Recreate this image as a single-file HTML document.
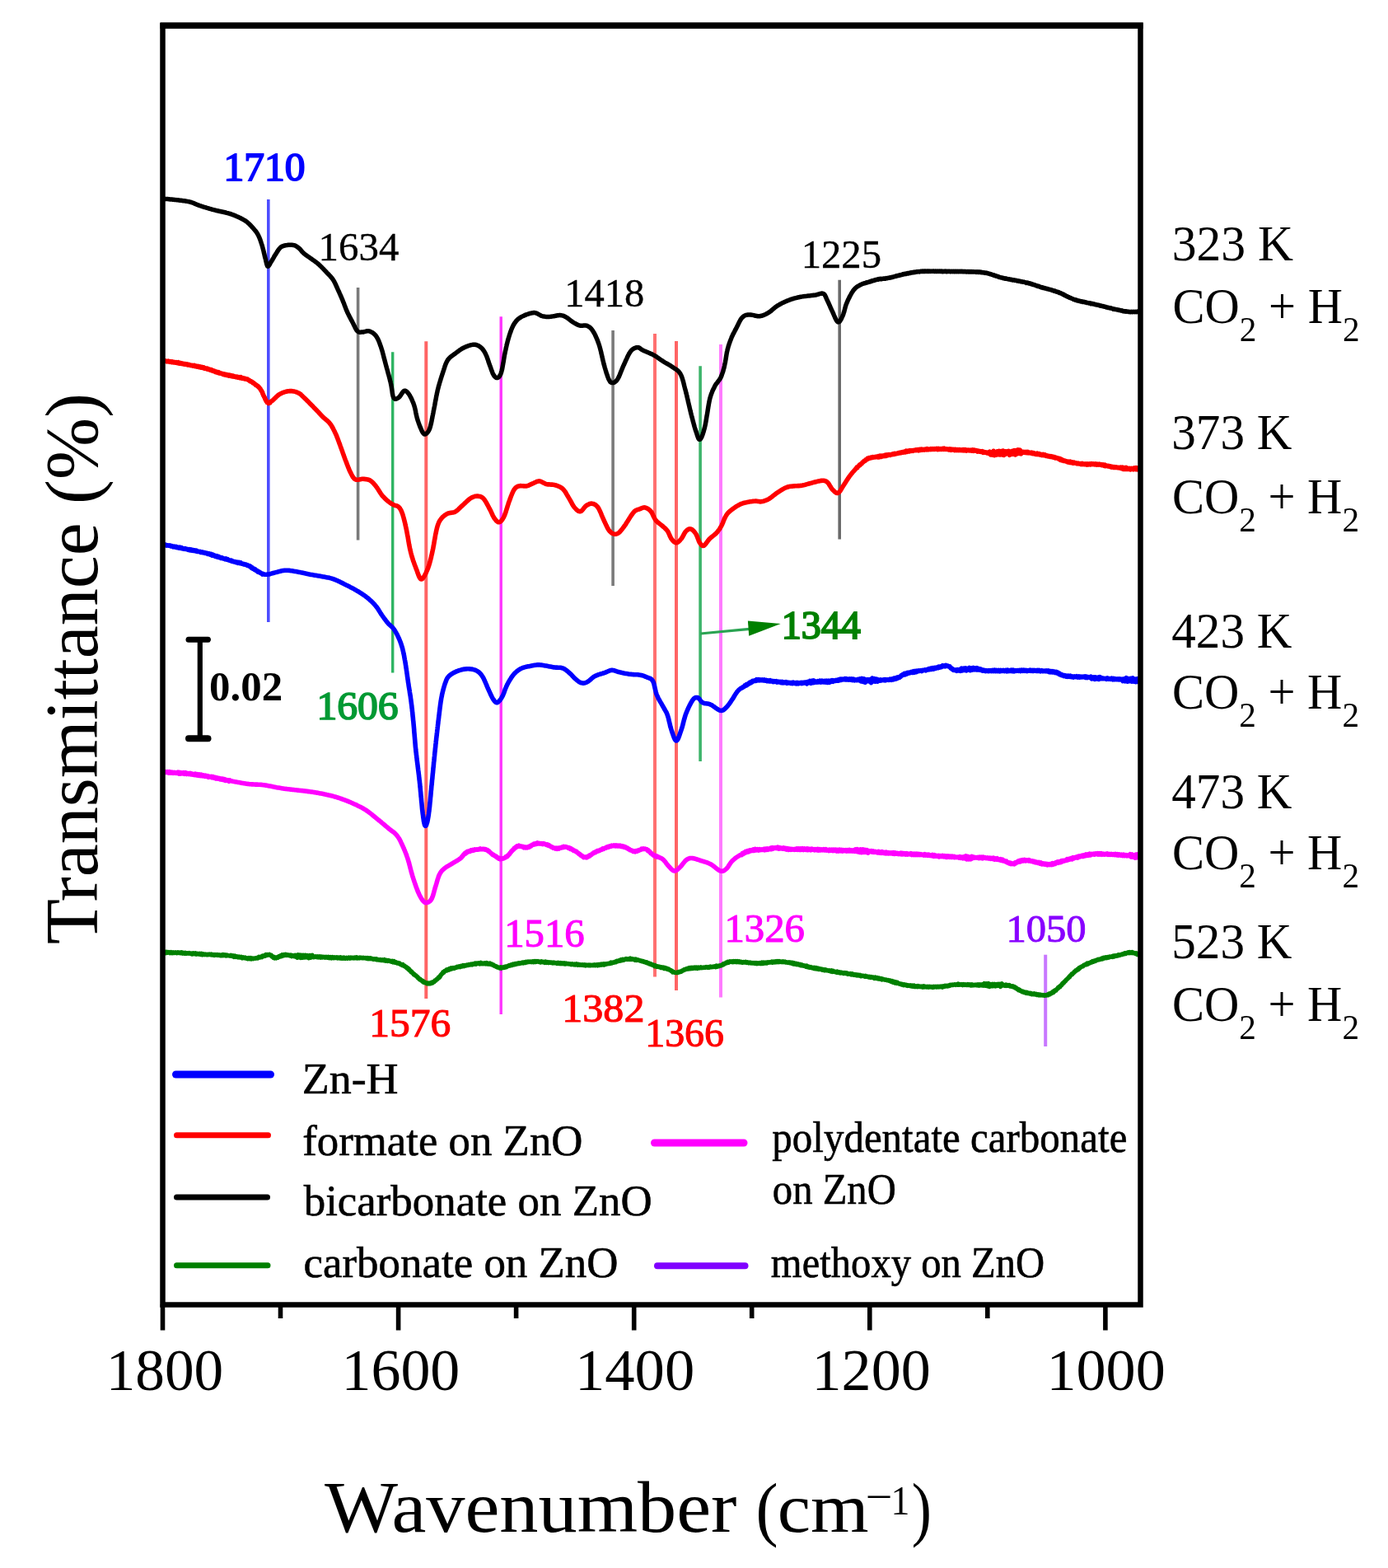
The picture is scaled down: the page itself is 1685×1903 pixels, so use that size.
<!DOCTYPE html>
<html><head><meta charset="utf-8"><title>FTIR spectra</title>
<style>
html,body{margin:0;padding:0;background:#fff;}
body{width:1685px;height:1903px;overflow:hidden;}
svg{display:block;}
</style></head>
<body>
<svg width="1685" height="1903" viewBox="0 0 1685 1903">
<rect width="1685" height="1903" fill="#fff"/>
<line x1="325.8" y1="242" x2="325.8" y2="755" stroke="#4d4dff" stroke-width="3.6"/>
<line x1="434.6" y1="349" x2="434.6" y2="655.5" stroke="#7a7a7a" stroke-width="3.6"/>
<line x1="476.7" y1="427.3" x2="476.7" y2="816.5" stroke="#2fb463" stroke-width="3.4"/>
<line x1="517.3" y1="414.2" x2="517.3" y2="1212" stroke="#ff6464" stroke-width="4.0"/>
<line x1="608.2" y1="384.3" x2="608.2" y2="1231" stroke="#ff33ff" stroke-width="3.4"/>
<line x1="744.1" y1="401" x2="744.1" y2="711" stroke="#7a7a7a" stroke-width="3.6"/>
<line x1="795.0" y1="405.1" x2="795.0" y2="1185.6" stroke="#ff7070" stroke-width="4.0"/>
<line x1="821.0" y1="414" x2="821.0" y2="1202" stroke="#ff6464" stroke-width="4.0"/>
<line x1="850.1" y1="444.3" x2="850.1" y2="924" stroke="#3cb46a" stroke-width="3.6"/>
<line x1="875.0" y1="418" x2="875.0" y2="1210.5" stroke="#ff7cff" stroke-width="4.0"/>
<line x1="1019.2" y1="339.8" x2="1019.2" y2="654.5" stroke="#6a6a6a" stroke-width="3.6"/>
<line x1="1269.2" y1="1158.7" x2="1269.2" y2="1270" stroke="#c877ff" stroke-width="4.0"/>
<line x1="850.4" y1="769.0" x2="910" y2="763.3" stroke="#2aa352" stroke-width="3.2"/>
<polygon points="907.9,753.5 909.2,771.8 947.7,757.0" fill="#008000"/>
<path d="M197.5,241.5L198.1,241.5L198.9,241.5L199.8,241.5L200.8,241.5L202.0,241.5L203.4,241.6L205.0,241.7L206.9,241.9L207.8,242.0L208.8,242.1L209.8,242.2L210.9,242.3L212.1,242.4L213.4,242.6L214.6,242.7L215.9,242.8L217.3,243.0L218.6,243.2L219.9,243.3L221.2,243.5L222.5,243.7L223.8,243.8L225.1,244.0L226.2,244.2L227.4,244.4L228.4,244.6L229.4,244.8L230.8,245.1L232.1,245.5L233.2,245.9L234.3,246.2L235.3,246.6L236.2,247.1L237.2,247.5L238.1,247.9L239.1,248.3L240.2,248.7L241.3,249.2L242.5,249.6L243.5,249.9L244.5,250.2L245.5,250.6L246.6,250.9L247.7,251.3L248.8,251.6L250.0,251.9L251.1,252.3L252.3,252.6L253.4,253.0L254.6,253.3L255.7,253.6L256.9,254.0L258.0,254.3L259.2,254.6L260.3,254.9L261.4,255.2L262.6,255.5L263.7,255.7L264.9,256.0L266.1,256.3L267.2,256.5L268.4,256.8L269.6,257.0L270.7,257.3L271.9,257.5L273.0,257.8L274.1,258.0L275.1,258.3L276.2,258.6L277.1,258.8L278.1,259.1L279.4,259.5L280.7,259.9L281.8,260.3L283.0,260.7L284.0,261.2L285.1,261.6L286.1,262.0L287.1,262.5L288.1,262.9L289.0,263.3L290.0,263.8L291.1,264.3L292.1,264.8L293.1,265.3L294.0,265.8L295.0,266.3L295.9,266.8L296.8,267.3L297.7,267.9L298.6,268.5L299.5,269.2L300.4,269.9L301.3,270.7L302.2,271.5L303.0,272.3L303.9,273.2L304.7,274.0L305.5,274.9L306.3,275.8L307.1,276.7L307.8,277.5L308.6,278.4L309.3,279.3L310.0,280.1L310.7,280.9L311.3,281.8L311.9,282.7L312.5,283.6L313.1,284.7L313.7,285.8L314.1,286.7L314.6,287.7L315.0,288.7L315.4,289.7L315.8,290.8L316.2,291.9L316.6,293.1L317.0,294.2L317.3,295.3L317.7,296.5L318.1,297.7L318.4,298.8L318.7,299.9L319.0,301.0L319.3,302.1L319.6,303.2L319.9,304.4L320.2,305.6L320.4,306.7L320.7,307.8L321.0,309.0L321.2,310.1L321.5,311.1L321.7,312.1L322.0,313.1L322.4,314.5L322.7,315.9L323.0,317.4L323.3,318.7L323.6,320.0L323.9,321.1L324.3,322.1L324.6,322.8L325.0,323.2L325.6,323.2L326.2,322.7L326.9,321.7L327.6,320.5L328.3,319.1L329.1,317.8L329.6,317.0L330.1,316.2L330.7,315.3L331.2,314.3L331.8,313.3L332.4,312.3L332.9,311.3L333.5,310.4L334.1,309.4L334.7,308.5L335.3,307.5L336.0,306.5L336.6,305.4L337.3,304.4L337.9,303.4L338.6,302.5L339.3,301.6L340.0,300.9L340.7,300.2L341.6,299.5L342.6,299.0L343.6,298.6L344.6,298.2L345.6,298.0L346.7,297.8L347.8,297.6L348.8,297.4L350.0,297.3L351.1,297.2L352.3,297.2L353.5,297.2L354.6,297.3L355.7,297.4L356.7,297.6L357.8,297.9L358.8,298.3L359.7,298.9L360.6,299.4L361.5,300.1L362.4,300.7L363.2,301.4L364.0,302.1L364.7,302.9L365.4,303.8L366.1,304.6L366.8,305.5L367.7,306.4L368.6,307.3L369.3,307.9L370.2,308.6L371.0,309.2L371.9,309.9L372.8,310.5L373.8,311.2L374.7,311.8L375.7,312.5L376.6,313.1L377.5,313.8L378.4,314.4L379.3,315.1L380.2,315.7L381.1,316.3L381.9,316.9L382.8,317.6L383.7,318.2L384.6,318.9L385.5,319.6L386.4,320.4L387.2,321.1L388.0,321.9L388.8,322.6L389.6,323.4L390.4,324.2L391.3,325.1L392.1,325.9L392.9,326.7L393.7,327.6L394.5,328.4L395.3,329.3L396.1,330.1L396.8,330.9L397.6,331.7L398.4,332.5L399.2,333.3L399.9,334.1L400.7,334.9L401.5,335.8L402.2,336.6L402.9,337.5L403.6,338.4L404.2,339.3L404.8,340.2L405.4,341.2L405.9,342.1L406.4,343.1L406.9,344.0L407.3,345.0L407.8,346.0L408.2,347.0L408.7,348.1L409.1,349.1L409.6,350.1L410.1,351.2L410.6,352.2L411.0,353.2L411.5,354.2L412.0,355.3L412.4,356.3L412.9,357.4L413.4,358.5L413.8,359.6L414.3,360.6L414.8,361.7L415.2,362.8L415.7,363.8L416.1,364.9L416.5,366.0L417.0,367.0L417.4,368.1L417.8,369.1L418.2,370.2L418.6,371.2L419.0,372.3L419.4,373.3L419.8,374.4L420.2,375.4L420.6,376.5L421.1,377.5L421.5,378.5L422.0,379.6L422.5,380.7L423.1,381.8L423.6,382.9L424.2,384.0L424.7,385.0L425.3,386.1L425.8,387.1L426.4,388.2L426.9,389.2L427.5,390.2L428.0,391.2L428.6,392.3L429.1,393.4L429.6,394.5L430.2,395.6L430.7,396.7L431.2,397.8L431.8,398.8L432.3,399.7L432.8,400.6L433.4,401.3L433.9,401.9L434.9,402.7L435.8,403.1L436.8,403.2L437.7,403.2L438.8,403.1L439.9,403.1L441.0,403.0L442.1,402.7L443.3,402.4L444.5,402.0L445.8,401.8L447.0,401.7L448.2,401.9L449.1,402.2L450.1,402.6L451.1,403.1L452.0,403.6L453.0,404.3L453.9,405.0L454.8,405.9L455.7,406.8L456.5,407.8L457.1,408.6L457.6,409.5L458.1,410.4L458.6,411.3L459.1,412.3L459.6,413.4L460.1,414.5L460.5,415.7L461.0,416.9L461.4,418.2L461.9,419.5L462.4,420.9L462.7,421.8L463.0,422.8L463.3,423.8L463.6,424.8L464.0,425.9L464.3,427.0L464.6,428.1L464.9,429.3L465.2,430.4L465.5,431.6L465.8,432.8L466.1,434.0L466.4,435.2L466.7,436.4L467.1,437.6L467.4,438.8L467.7,440.0L468.0,441.1L468.3,442.3L468.6,443.4L468.9,444.5L469.2,445.7L469.5,446.8L469.9,448.0L470.2,449.1L470.5,450.3L470.8,451.4L471.1,452.6L471.4,453.8L471.8,454.9L472.1,456.1L472.4,457.2L472.7,458.4L473.0,459.5L473.3,460.6L473.5,461.7L473.8,462.7L474.1,463.8L474.3,464.8L474.6,466.1L474.8,467.4L475.1,468.7L475.3,470.0L475.5,471.3L475.7,472.6L475.9,473.9L476.1,475.1L476.2,476.3L476.4,477.4L476.6,478.5L476.8,479.5L477.0,480.4L477.3,481.3L477.5,482.0L477.8,482.6L478.8,483.9L480.0,484.3L481.2,484.1L482.5,483.4L483.8,482.6L484.5,482.0L485.2,481.3L485.9,480.3L486.6,479.3L487.4,478.2L488.1,477.1L488.8,476.1L489.5,475.3L490.2,474.6L490.9,474.3L491.8,474.2L492.7,474.5L493.5,475.0L494.3,475.7L495.1,476.7L496.0,477.8L496.8,479.0L497.3,479.7L497.7,480.5L498.2,481.4L498.7,482.3L499.2,483.3L499.7,484.3L500.2,485.4L500.6,486.4L501.1,487.6L501.6,488.7L502.0,489.8L502.4,491.0L502.8,492.1L503.1,493.2L503.4,494.3L503.7,495.4L504.0,496.6L504.2,497.7L504.5,498.9L504.7,500.1L504.9,501.3L505.2,502.5L505.4,503.7L505.7,504.9L506.0,506.1L506.3,507.3L506.6,508.4L507.0,509.6L507.4,510.8L507.8,512.0L508.2,513.2L508.7,514.5L509.1,515.7L509.6,516.9L510.0,518.1L510.5,519.3L511.0,520.3L511.4,521.3L511.8,522.3L512.2,523.1L512.6,523.8L513.5,525.4L514.3,526.4L515.1,527.0L515.8,527.1L516.7,526.8L517.3,526.4L518.0,526.0L518.6,525.3L519.3,524.5L520.0,523.5L520.7,522.2L521.4,520.8L522.0,519.0L522.3,518.2L522.5,517.4L522.7,516.4L523.0,515.5L523.2,514.4L523.5,513.4L523.7,512.3L524.0,511.1L524.2,509.9L524.4,508.7L524.7,507.5L524.9,506.3L525.1,505.0L525.4,503.8L525.6,502.6L525.9,501.3L526.1,500.1L526.3,498.9L526.6,497.7L526.8,496.5L527.0,495.4L527.2,494.3L527.5,493.1L527.7,492.0L527.9,490.9L528.1,489.7L528.3,488.6L528.5,487.4L528.8,486.2L529.0,485.1L529.2,483.9L529.4,482.8L529.6,481.6L529.8,480.5L530.1,479.4L530.3,478.2L530.5,477.1L530.8,476.0L531.0,474.9L531.2,473.9L531.5,472.8L531.8,471.6L532.1,470.4L532.4,469.2L532.7,468.0L533.1,466.8L533.4,465.6L533.7,464.5L534.1,463.3L534.4,462.2L534.8,461.1L535.1,459.9L535.5,458.8L535.8,457.8L536.1,456.7L536.5,455.6L536.8,454.6L537.2,453.6L537.5,452.6L537.9,451.3L538.3,450.1L538.7,448.9L539.1,447.6L539.5,446.5L539.8,445.3L540.2,444.2L540.6,443.1L541.0,442.0L541.5,440.9L541.9,440.0L542.4,439.0L542.9,438.1L543.4,437.2L544.1,436.2L544.9,435.2L545.7,434.4L546.5,433.6L547.4,432.8L548.3,432.1L549.2,431.5L550.1,430.8L551.1,430.2L552.0,429.5L552.9,428.8L553.8,428.1L554.8,427.4L555.7,426.7L556.7,426.0L557.6,425.3L558.6,424.6L559.6,424.0L560.6,423.3L561.6,422.8L562.6,422.2L563.6,421.7L564.7,421.2L565.7,420.7L566.9,420.3L568.0,419.9L569.1,419.5L570.3,419.1L571.4,418.8L572.5,418.6L573.5,418.4L574.5,418.2L575.5,418.2L576.7,418.3L577.9,418.5L579.0,418.8L580.0,419.2L581.0,419.7L582.0,420.3L582.9,421.0L583.8,421.7L584.6,422.4L585.3,423.1L586.0,423.9L586.6,424.8L587.3,425.7L587.9,426.7L588.5,427.7L589.1,428.8L589.7,430.0L590.1,430.9L590.6,431.9L591.0,433.0L591.4,434.1L591.8,435.2L592.2,436.3L592.6,437.5L592.9,438.6L593.3,439.8L593.7,440.9L594.1,442.0L594.5,443.1L594.9,444.3L595.4,445.5L595.8,446.7L596.2,447.9L596.6,449.1L597.1,450.2L597.5,451.3L597.9,452.4L598.3,453.4L598.8,454.2L599.2,455.0L600.1,456.4L601.1,457.5L602.0,458.3L603.0,458.6L603.9,458.5L604.5,458.2L605.1,457.9L605.7,457.4L606.3,456.7L606.9,455.8L607.5,454.7L608.1,453.2L608.7,451.4L608.9,450.6L609.1,449.8L609.3,448.9L609.6,447.9L609.8,446.8L610.0,445.7L610.2,444.6L610.4,443.4L610.6,442.2L610.8,441.0L611.1,439.7L611.3,438.4L611.5,437.1L611.7,435.9L611.9,434.6L612.1,433.3L612.3,432.1L612.5,430.9L612.8,429.7L613.0,428.6L613.2,427.5L613.4,426.5L613.7,425.2L614.0,424.0L614.2,422.7L614.5,421.5L614.8,420.3L615.0,419.2L615.3,418.0L615.6,416.9L615.9,415.8L616.1,414.7L616.4,413.6L616.7,412.6L617.0,411.5L617.3,410.5L617.6,409.5L617.9,408.5L618.2,407.5L618.6,406.2L619.0,405.0L619.4,403.8L619.9,402.6L620.3,401.4L620.7,400.2L621.2,399.1L621.6,398.0L622.1,397.0L622.6,396.0L623.0,395.0L623.6,394.1L624.1,393.2L624.8,392.1L625.5,391.1L626.2,390.2L626.9,389.3L627.7,388.5L628.4,387.7L629.3,387.0L630.2,386.3L631.3,385.6L632.4,384.9L633.3,384.4L634.3,383.9L635.3,383.4L636.4,382.9L637.6,382.4L638.8,381.9L640.0,381.5L641.2,381.1L642.4,380.7L643.6,380.3L644.8,380.1L645.9,379.8L646.9,379.7L647.9,379.6L649.2,379.6L650.4,379.9L651.5,380.2L652.5,380.7L653.6,381.3L654.6,381.9L655.6,382.4L656.5,383.0L657.5,383.4L658.5,383.7L659.7,384.0L660.9,384.1L662.0,384.3L663.2,384.4L664.3,384.4L665.5,384.4L666.7,384.4L668.0,384.3L669.0,384.2L670.1,384.1L671.2,383.9L672.3,383.7L673.5,383.5L674.7,383.2L675.8,383.0L676.9,382.8L678.0,382.7L679.0,382.6L679.9,382.6L681.2,382.7L682.3,382.9L683.3,383.1L684.2,383.4L685.1,383.9L686.1,384.3L687.1,384.9L688.0,385.4L688.9,386.0L689.8,386.7L690.7,387.4L691.7,388.2L692.6,388.9L693.5,389.6L694.5,390.3L695.4,390.9L696.4,391.5L697.4,392.1L698.5,392.7L699.5,393.3L700.5,393.8L701.5,394.3L702.6,394.7L703.7,395.0L704.8,395.2L706.0,395.2L707.3,395.2L708.5,395.1L709.8,395.1L711.0,395.1L712.1,395.2L713.2,395.6L714.1,396.1L715.0,396.6L715.8,397.1L716.6,397.8L717.3,398.5L718.1,399.4L718.9,400.4L719.6,401.5L720.4,402.7L720.8,403.5L721.3,404.3L721.8,405.1L722.2,406.0L722.7,406.9L723.1,407.9L723.6,408.9L724.0,410.0L724.5,411.0L724.9,412.1L725.4,413.3L725.8,414.4L726.2,415.6L726.7,416.8L727.1,418.0L727.5,419.3L727.8,420.3L728.1,421.3L728.4,422.4L728.7,423.5L729.0,424.6L729.3,425.8L729.6,426.9L729.8,428.1L730.1,429.3L730.4,430.5L730.7,431.7L730.9,432.9L731.2,434.1L731.5,435.3L731.7,436.5L732.0,437.7L732.3,438.8L732.6,440.0L732.8,441.0L733.1,442.1L733.4,443.1L733.8,444.4L734.1,445.7L734.5,447.0L734.9,448.3L735.3,449.6L735.7,450.8L736.0,452.1L736.4,453.3L736.8,454.4L737.2,455.5L737.5,456.6L737.9,457.6L738.3,458.5L738.6,459.4L739.0,460.2L739.3,460.9L740.2,462.4L740.9,463.5L741.7,464.1L742.5,464.4L743.2,464.6L744.1,464.5L744.9,464.4L745.7,464.1L746.5,463.6L747.3,463.0L748.2,462.2L749.1,461.1L750.0,459.7L750.4,459.0L750.8,458.2L751.3,457.3L751.7,456.4L752.1,455.4L752.6,454.3L753.0,453.3L753.4,452.1L753.9,451.0L754.4,449.8L754.8,448.7L755.3,447.5L755.8,446.4L756.2,445.3L756.7,444.2L757.2,443.1L757.7,442.0L758.2,440.9L758.7,439.8L759.2,438.7L759.7,437.5L760.2,436.4L760.8,435.2L761.3,434.1L761.8,432.9L762.3,431.9L762.9,430.8L763.4,429.8L763.9,428.9L764.5,428.0L765.0,427.2L765.5,426.5L766.5,425.3L767.6,424.3L768.7,423.5L769.7,422.8L770.8,422.4L771.8,422.0L772.8,421.8L773.8,421.7L774.8,421.8L775.7,422.0L776.6,422.5L777.5,423.2L778.5,423.9L779.6,424.6L780.9,425.3L781.8,425.7L782.8,426.1L783.8,426.6L784.9,427.1L786.1,427.5L787.2,428.0L788.4,428.5L789.6,429.1L790.8,429.6L791.9,430.1L793.0,430.7L794.0,431.2L795.1,431.8L796.1,432.4L797.0,433.0L798.0,433.7L798.9,434.3L799.8,435.0L800.8,435.7L801.7,436.3L802.6,437.0L803.6,437.6L804.6,438.3L805.6,438.9L806.5,439.5L807.5,440.1L808.6,440.7L809.6,441.2L810.6,441.8L811.6,442.4L812.7,443.0L813.7,443.6L814.6,444.2L815.6,444.9L816.5,445.5L817.5,446.2L818.4,446.8L819.4,447.4L820.3,448.0L821.2,448.6L822.1,449.2L822.9,449.9L823.7,450.7L824.5,451.6L825.3,452.6L826.0,453.8L826.4,454.6L826.9,455.5L827.2,456.4L827.6,457.3L828.0,458.3L828.3,459.3L828.6,460.3L828.9,461.4L829.3,462.5L829.6,463.7L829.9,464.9L830.2,466.1L830.5,467.4L830.8,468.7L831.2,470.0L831.5,471.4L831.9,472.8L832.2,473.8L832.4,474.8L832.7,475.8L832.9,476.9L833.2,477.9L833.5,479.1L833.8,480.2L834.0,481.4L834.3,482.6L834.6,483.8L834.9,485.0L835.2,486.2L835.4,487.5L835.7,488.7L836.0,489.9L836.3,491.1L836.6,492.3L836.9,493.5L837.1,494.7L837.4,495.9L837.7,497.1L838.0,498.2L838.2,499.3L838.5,500.4L838.7,501.4L839.0,502.4L839.3,503.7L839.7,505.1L840.0,506.4L840.4,507.7L840.7,508.9L841.0,510.2L841.3,511.4L841.7,512.6L842.0,513.8L842.3,514.9L842.6,516.1L842.9,517.1L843.2,518.2L843.5,519.2L843.8,520.2L844.1,521.2L844.4,522.1L844.7,523.0L845.0,523.8L845.6,525.5L846.1,527.2L846.6,528.8L847.1,530.2L847.6,531.4L848.1,532.4L848.6,533.1L849.1,533.4L849.7,533.3L850.1,533.0L850.5,532.6L850.9,532.0L851.3,531.2L851.8,530.4L852.2,529.4L852.6,528.3L853.1,527.1L853.5,525.7L854.0,524.3L854.4,522.8L854.8,521.3L855.3,519.6L855.7,517.9L855.9,517.0L856.1,516.1L856.3,515.1L856.5,514.1L856.7,513.0L856.9,511.9L857.1,510.7L857.3,509.5L857.5,508.3L857.7,507.0L857.9,505.8L858.1,504.5L858.4,503.2L858.6,501.9L858.8,500.6L859.0,499.3L859.2,498.0L859.4,496.7L859.6,495.5L859.8,494.2L860.0,493.0L860.2,491.8L860.4,490.6L860.6,489.5L860.8,488.4L861.0,487.4L861.2,486.4L861.4,485.5L861.6,484.6L862.0,482.9L862.5,481.4L862.9,479.9L863.4,478.6L863.8,477.4L864.3,476.2L864.7,475.1L865.1,474.1L865.6,473.2L866.0,472.3L866.4,471.5L866.8,470.7L867.2,469.9L867.5,469.2L868.2,467.8L868.8,466.8L869.3,466.1L869.8,465.5L870.4,464.9L871.0,464.0L871.6,463.1L872.2,462.3L872.9,461.4L873.6,460.5L874.2,459.5L874.9,458.3L875.5,457.0L875.9,456.1L876.2,455.3L876.5,454.3L876.9,453.3L877.2,452.3L877.6,451.3L877.9,450.2L878.2,449.0L878.5,447.8L878.9,446.6L879.2,445.3L879.5,444.0L879.7,443.0L879.9,442.0L880.1,440.9L880.4,439.8L880.6,438.6L880.8,437.4L881.0,436.2L881.2,435.0L881.4,433.8L881.6,432.5L881.8,431.3L882.0,430.1L882.2,428.9L882.4,427.8L882.6,426.7L882.9,425.6L883.1,424.6L883.4,423.3L883.8,422.1L884.1,420.9L884.4,419.8L884.8,418.7L885.1,417.6L885.5,416.5L885.9,415.5L886.2,414.4L886.6,413.4L887.0,412.4L887.4,411.4L887.8,410.4L888.2,409.3L888.7,408.3L889.2,407.3L889.6,406.3L890.1,405.3L890.6,404.4L891.1,403.4L891.6,402.5L892.1,401.5L892.6,400.5L893.2,399.5L893.7,398.5L894.2,397.5L894.7,396.5L895.3,395.4L895.8,394.3L896.3,393.2L896.9,392.0L897.4,390.9L898.0,389.9L898.6,388.8L899.1,387.9L899.7,387.0L900.3,386.2L900.9,385.5L901.9,384.6L902.8,383.8L903.7,383.2L904.7,382.8L905.7,382.4L906.8,382.2L907.9,382.0L909.2,381.9L910.2,381.9L911.3,382.0L912.5,382.2L913.7,382.4L914.9,382.7L916.2,383.0L917.4,383.3L918.7,383.5L919.9,383.7L921.1,383.7L922.2,383.7L923.4,383.5L924.5,383.3L925.6,383.0L926.6,382.6L927.7,382.2L928.7,381.8L929.8,381.3L930.8,380.7L931.8,380.1L932.9,379.5L933.8,378.9L934.7,378.3L935.5,377.7L936.4,377.0L937.2,376.2L938.1,375.5L939.0,374.7L939.9,374.0L940.8,373.2L941.7,372.5L942.6,371.8L943.6,371.2L944.5,370.6L945.5,370.1L946.4,369.5L947.4,369.0L948.4,368.5L949.4,367.9L950.4,367.4L951.4,367.0L952.4,366.5L953.5,366.0L954.5,365.6L955.6,365.1L956.6,364.7L957.6,364.3L958.7,363.9L959.7,363.5L960.8,363.2L961.8,362.8L962.9,362.5L964.0,362.2L965.1,361.9L966.2,361.6L967.3,361.3L968.5,361.0L969.7,360.8L970.9,360.5L972.0,360.3L973.2,360.1L974.3,359.9L975.6,359.7L976.8,359.6L978.1,359.4L979.4,359.3L980.7,359.1L981.9,359.0L983.2,358.9L984.4,358.7L985.5,358.6L986.7,358.5L987.7,358.3L988.7,358.2L990.1,358.0L991.4,357.7L992.6,357.3L993.8,357.0L994.9,356.7L995.9,356.4L996.9,356.2L997.8,356.1L998.6,356.2L999.4,356.4L1000.3,356.9L1001.0,357.5L1001.5,358.4L1002.0,359.3L1002.5,360.4L1003.0,361.6L1003.5,362.8L1004.1,364.1L1004.5,364.9L1004.9,365.8L1005.4,366.7L1005.8,367.7L1006.3,368.7L1006.7,369.8L1007.2,370.8L1007.7,371.9L1008.1,373.0L1008.6,374.0L1009.1,375.1L1009.6,376.2L1010.1,377.2L1010.6,378.3L1011.1,379.5L1011.7,380.7L1012.2,382.0L1012.8,383.4L1013.4,384.7L1013.9,385.9L1014.5,387.1L1015.1,388.2L1015.6,389.1L1016.2,389.9L1016.7,390.5L1017.2,390.8L1017.9,390.9L1018.6,390.7L1019.3,390.1L1020.0,389.3L1020.6,388.2L1021.3,387.0L1021.9,385.7L1022.5,384.4L1023.1,383.1L1023.5,382.2L1023.8,381.3L1024.1,380.3L1024.4,379.3L1024.8,378.2L1025.1,377.0L1025.4,375.9L1025.7,374.7L1026.0,373.5L1026.3,372.3L1026.7,371.1L1027.0,370.0L1027.5,368.8L1027.9,367.7L1028.4,366.7L1028.8,365.6L1029.3,364.5L1029.9,363.3L1030.4,362.2L1031.0,361.1L1031.5,360.0L1032.1,358.8L1032.7,357.8L1033.3,356.7L1033.9,355.7L1034.5,354.7L1035.1,353.8L1035.6,353.0L1036.2,352.2L1037.1,351.1L1038.0,350.1L1038.9,349.3L1039.8,348.5L1040.6,347.9L1041.6,347.3L1042.5,346.8L1043.5,346.2L1044.5,345.7L1045.5,345.2L1046.5,344.8L1047.5,344.4L1048.6,344.0L1049.7,343.7L1050.8,343.5L1051.9,342.7L1053.0,343.0L1054.1,342.3L1055.2,342.3L1056.3,341.5L1057.3,341.7L1058.3,340.8L1059.4,340.9L1060.4,340.3L1061.5,340.4L1062.6,339.6L1063.7,339.8L1064.8,339.1L1066.0,339.2L1067.0,338.5L1068.0,338.8L1069.1,338.2L1070.1,338.7L1071.2,338.2L1072.2,338.3L1073.4,337.9L1074.5,338.3L1075.7,337.6L1077.0,337.8L1078.2,337.2L1079.6,337.3L1080.6,336.8L1081.6,337.0L1082.7,336.3L1083.8,336.4L1084.9,335.8L1086.1,335.8L1087.2,335.1L1088.4,335.2L1089.6,334.5L1090.8,334.6L1092.0,333.8L1093.3,334.0L1094.5,333.2L1095.7,333.4L1096.9,332.5L1098.0,332.7L1099.2,332.1L1100.3,332.4L1101.4,331.6L1102.5,332.0L1103.6,331.2L1104.7,331.5L1105.7,330.7L1106.8,331.0L1107.9,330.4L1108.9,330.8L1110.0,330.0L1111.2,330.4L1112.3,329.7L1113.5,330.0L1114.8,329.5L1116.0,329.9L1117.4,329.3L1118.8,329.5L1119.8,329.1L1120.8,329.6L1121.9,329.0L1122.9,329.4L1124.0,329.0L1125.2,329.4L1126.3,328.9L1127.5,329.4L1128.6,329.0L1129.8,329.4L1131.0,329.1L1132.2,329.3L1133.4,328.9L1134.7,329.6L1135.9,329.0L1137.1,329.5L1138.4,329.1L1139.6,329.5L1140.8,329.0L1142.1,329.6L1143.3,329.1L1144.5,329.7L1145.7,329.2L1146.9,329.6L1148.1,329.1L1149.3,329.7L1150.5,329.2L1151.7,329.6L1152.9,329.2L1154.1,329.8L1155.4,329.3L1156.6,329.7L1157.8,329.2L1159.1,329.8L1160.3,329.2L1161.6,329.8L1162.8,329.3L1164.0,329.8L1165.2,329.3L1166.4,329.7L1167.6,329.2L1168.8,329.8L1170.0,329.4L1171.1,329.8L1172.2,329.4L1173.3,329.9L1174.4,329.5L1175.5,330.0L1176.5,329.5L1177.5,330.1L1178.9,329.6L1180.3,330.0L1181.5,329.8L1182.8,330.1L1184.0,329.8L1185.1,330.4L1186.3,329.8L1187.4,330.5L1188.5,329.9L1189.5,330.5L1190.6,330.1L1191.6,330.8L1192.7,330.5L1193.8,330.9L1194.9,330.8L1196.0,331.4L1197.1,331.1L1198.2,331.7L1199.2,331.5L1200.3,332.2L1201.3,332.2L1202.3,332.8L1203.3,332.7L1204.3,333.4L1205.3,333.4L1206.3,334.3L1207.3,334.1L1208.4,334.9L1209.4,334.8L1210.5,335.5L1211.7,335.6L1212.9,336.4L1214.1,336.4L1215.4,337.0L1216.7,336.9L1217.7,337.7L1218.7,337.5L1219.8,338.2L1221.0,337.8L1222.1,338.5L1223.3,338.5L1224.5,339.0L1225.7,338.8L1227.0,339.5L1228.2,339.3L1229.5,340.1L1230.8,339.8L1232.0,340.4L1233.3,340.2L1234.6,341.0L1235.8,340.7L1237.1,341.4L1238.3,341.2L1239.5,341.9L1240.7,341.7L1241.8,342.3L1243.0,342.1L1244.1,342.7L1245.1,342.7L1246.1,343.4L1247.5,343.1L1248.8,344.0L1250.1,343.8L1251.4,344.7L1252.6,344.5L1253.7,345.5L1254.8,345.3L1255.9,346.0L1257.0,346.1L1258.1,346.9L1259.1,346.8L1260.2,347.6L1261.2,347.3L1262.3,348.2L1263.4,348.2L1264.5,349.0L1265.6,348.7L1266.7,349.6L1267.8,349.4L1268.9,350.1L1269.9,350.0L1271.0,350.7L1272.1,350.6L1273.2,351.3L1274.3,351.3L1275.4,351.8L1276.5,351.7L1277.6,352.5L1278.7,352.4L1279.8,353.2L1280.8,353.0L1281.9,354.0L1283.0,353.9L1284.1,354.6L1285.2,354.6L1286.3,355.6L1287.3,355.4L1288.4,356.3L1289.4,356.5L1290.4,357.4L1291.4,357.3L1292.4,358.5L1293.4,358.5L1294.4,359.5L1295.4,359.4L1296.5,360.5L1297.5,360.4L1298.6,361.5L1299.8,361.5L1301.0,362.4L1302.2,362.6L1303.5,363.6L1304.8,363.5L1305.8,364.3L1306.8,364.0L1307.8,364.9L1308.9,364.7L1310.0,365.4L1311.1,365.3L1312.3,366.0L1313.4,365.8L1314.6,366.6L1315.8,366.2L1317.1,367.0L1318.3,366.8L1319.5,367.5L1320.7,367.5L1321.9,368.0L1323.2,367.8L1324.4,368.7L1325.6,368.3L1326.7,369.0L1327.9,368.8L1329.0,369.6L1330.1,369.4L1331.2,370.1L1332.2,369.9L1333.2,370.4L1334.2,370.3L1335.6,371.2L1337.0,370.9L1338.3,371.8L1339.6,371.6L1340.8,372.3L1342.0,372.2L1343.2,373.1L1344.3,372.9L1345.4,373.6L1346.5,373.5L1347.6,374.0L1348.6,373.8L1349.7,374.5L1350.7,374.5L1351.7,375.3L1352.8,375.0L1353.8,375.5L1355.0,375.5L1356.3,376.1L1357.4,375.9L1358.6,376.6L1359.7,376.4L1360.9,377.1L1362.0,376.8L1363.1,377.7L1364.1,377.4L1365.2,377.9L1366.3,377.7L1367.3,378.2L1368.4,377.9L1369.4,378.4L1370.6,378.3L1371.9,378.8L1373.3,378.3L1374.6,378.8L1375.9,378.3L1377.2,378.7L1378.4,378.3L1379.5,378.7L1380.6,378.0L1381.5,378.7L1382.3,378.2L1383.0,378.3" fill="none" stroke="#000000" stroke-width="5.5" stroke-linejoin="round" stroke-linecap="butt"/>
<path d="M197.5,437.8L198.2,438.5L199.1,437.4L200.2,438.3L201.5,438.1L202.8,439.0L204.2,438.1L205.5,439.3L206.9,438.7L208.0,439.6L209.1,438.9L210.3,439.9L211.4,439.4L212.6,440.2L213.9,439.7L215.1,440.7L216.3,439.8L217.5,441.2L218.7,440.4L219.8,441.4L220.8,440.9L221.8,441.6L222.8,441.4L223.8,442.1L224.8,441.6L225.8,442.5L226.9,441.8L228.1,443.0L229.3,442.4L230.6,443.4L231.6,443.1L232.5,443.8L233.6,443.4L234.6,444.2L235.7,443.5L236.8,444.7L238.0,444.2L239.1,445.2L240.3,444.4L241.5,445.6L242.6,444.8L243.8,446.1L245.0,445.4L246.1,446.5L247.3,445.8L248.4,447.3L249.5,446.8L250.6,447.8L251.7,447.2L252.8,448.4L254.0,448.0L255.1,449.2L256.2,448.6L257.3,450.0L258.4,449.5L259.5,450.7L260.6,450.3L261.8,451.7L262.9,451.2L264.0,452.3L265.1,451.7L266.2,453.1L267.3,452.5L268.4,453.5L269.6,453.2L270.7,454.3L271.9,453.8L273.0,454.9L274.2,454.3L275.3,455.4L276.5,454.8L277.6,456.0L278.7,455.2L279.8,456.3L280.9,455.7L281.9,456.8L283.0,456.1L284.0,457.1L285.2,456.8L286.4,457.7L287.6,457.0L288.8,458.2L290.0,457.7L291.1,458.7L292.2,457.8L293.3,459.1L294.4,458.5L295.4,459.5L296.4,459.0L297.4,460.0L298.3,459.5L299.4,460.5L300.5,460.1L301.5,461.4L302.5,461.3L303.4,462.7L304.3,462.5L305.2,463.6L306.1,463.3L306.9,464.8L307.8,464.6L308.7,465.9L309.6,466.0L310.5,467.3L311.4,467.2L312.3,468.6L313.1,468.5L313.9,470.0L314.7,470.1L315.4,471.6L316.1,471.9L316.8,473.7L317.4,473.9L318.0,475.5L318.5,475.9L318.9,477.9L319.4,478.4L319.9,480.3L320.3,480.5L320.8,481.9L321.4,482.6L322.0,484.6L322.6,484.9L323.1,486.8L323.7,487.2L324.3,488.5L325.0,488.4L325.9,489.5L326.8,488.4L327.8,488.9L329.0,487.0L330.3,486.5L331.0,486.0L331.7,485.3L332.5,484.5L333.3,483.7L334.2,482.9L335.1,482.0L336.0,481.1L336.9,480.3L337.9,479.5L338.8,478.8L339.8,478.2L340.8,477.7L341.8,477.2L342.9,476.7L344.0,476.3L345.1,475.9L346.2,475.6L347.4,475.3L348.5,475.0L349.6,474.8L350.7,474.7L351.7,474.6L352.8,474.6L354.0,474.6L355.1,474.7L356.2,474.9L357.3,475.1L358.4,475.4L359.4,475.7L360.4,476.1L361.4,476.5L362.4,477.0L363.3,477.5L364.2,478.0L365.0,478.6L365.7,479.3L366.5,480.0L367.2,480.7L368.0,481.5L368.9,482.3L369.7,483.2L370.7,484.1L371.4,484.8L372.2,485.6L373.0,486.4L373.9,487.2L374.8,488.1L375.6,489.0L376.5,489.9L377.4,490.8L378.3,491.7L379.2,492.6L380.1,493.5L380.9,494.4L381.7,495.2L382.5,496.0L383.4,496.9L384.2,497.8L385.1,498.7L385.9,499.5L386.7,500.4L387.4,501.2L388.2,502.1L389.0,502.9L389.7,503.7L390.5,504.5L391.2,505.2L392.0,506.0L392.9,506.9L393.8,507.7L394.7,508.4L395.6,509.2L396.5,509.9L397.4,510.7L398.2,511.4L399.1,512.3L399.9,513.2L400.7,514.2L401.3,515.0L401.9,515.9L402.5,516.8L403.0,517.8L403.6,518.8L404.2,519.8L404.7,520.8L405.2,521.9L405.8,522.9L406.3,524.0L406.8,525.1L407.3,526.2L407.8,527.3L408.3,528.3L408.7,529.4L409.1,530.4L409.6,531.5L410.0,532.6L410.4,533.7L410.8,534.8L411.2,535.9L411.6,537.0L412.0,538.1L412.5,539.3L412.9,540.4L413.3,541.6L413.7,542.7L414.1,543.8L414.5,544.9L414.9,546.0L415.3,547.1L415.7,548.2L416.1,549.4L416.5,550.5L416.9,551.6L417.3,552.8L417.7,553.9L418.1,555.0L418.5,556.1L418.9,557.2L419.3,558.3L419.7,559.3L420.2,560.5L420.6,561.7L421.1,562.9L421.5,564.1L422.0,565.2L422.4,566.4L422.9,567.5L423.3,568.6L423.8,569.7L424.2,570.8L424.7,571.8L425.1,572.7L425.6,573.6L426.2,574.8L426.8,576.0L427.4,577.1L428.0,578.2L428.6,579.2L429.3,580.0L429.9,580.8L430.7,581.4L431.5,581.9L432.5,582.2L433.6,582.3L434.9,582.2L436.1,582.0L437.4,581.7L438.6,581.5L439.8,581.3L441.0,581.3L442.1,581.4L443.2,581.5L444.2,581.6L445.3,581.7L446.3,581.9L447.3,582.2L448.3,582.6L449.3,583.1L450.1,583.6L451.0,584.3L451.8,584.9L452.6,585.7L453.4,586.5L454.1,587.4L454.9,588.3L455.7,589.2L456.5,590.2L457.1,591.1L457.8,592.0L458.4,593.0L459.1,594.0L459.7,595.0L460.4,596.1L461.0,597.1L461.7,598.1L462.3,599.1L463.0,600.0L463.6,600.9L464.4,601.9L465.2,602.8L466.0,603.6L466.8,604.4L467.5,605.2L468.3,605.9L469.1,606.6L469.9,607.3L470.7,608.0L471.6,608.7L472.5,609.4L473.4,610.1L474.3,610.7L475.2,611.3L476.1,611.8L477.0,612.3L477.8,612.8L478.9,613.3L479.9,613.5L481.0,613.7L481.9,614.0L482.9,614.4L483.8,615.1L484.4,615.8L485.1,616.5L485.7,617.3L486.2,618.2L486.8,619.2L487.3,620.4L487.9,621.8L488.5,623.4L488.8,624.2L489.1,625.1L489.3,626.0L489.6,627.0L489.9,628.0L490.2,629.0L490.4,630.0L490.7,631.1L491.0,632.3L491.3,633.5L491.6,634.6L491.9,635.9L492.1,637.1L492.4,638.4L492.7,639.7L493.0,641.0L493.3,642.4L493.5,643.4L493.7,644.4L493.9,645.5L494.1,646.6L494.3,647.7L494.5,648.8L494.7,650.0L495.0,651.1L495.2,652.3L495.4,653.5L495.6,654.8L495.8,656.0L496.0,657.2L496.2,658.4L496.4,659.6L496.6,660.8L496.9,662.0L497.1,663.2L497.3,664.3L497.5,665.5L497.8,666.6L498.0,667.6L498.3,668.7L498.5,669.7L498.8,671.0L499.2,672.3L499.5,673.6L499.9,674.8L500.2,676.0L500.6,677.2L501.0,678.4L501.3,679.6L501.7,680.7L502.1,681.8L502.5,682.9L502.9,684.0L503.2,685.0L503.6,686.0L504.0,687.0L504.4,688.0L504.7,689.0L505.1,689.9L505.6,691.2L506.1,692.6L506.6,693.9L507.0,695.3L507.5,696.6L508.0,697.9L508.5,699.1L508.9,700.1L509.4,701.1L509.9,701.8L510.4,702.4L511.0,702.8L511.5,702.9L512.1,702.8L512.7,702.4L513.3,701.8L513.9,701.1L514.5,700.1L515.2,699.1L515.8,697.9L516.5,696.6L517.1,695.3L517.7,693.9L518.3,692.6L518.9,691.2L519.4,689.9L519.8,689.0L520.1,688.0L520.5,687.0L520.8,686.0L521.1,685.0L521.4,684.0L521.7,682.9L522.0,681.8L522.3,680.7L522.6,679.6L522.9,678.4L523.2,677.2L523.5,676.0L523.7,674.8L524.0,673.6L524.3,672.3L524.6,671.0L524.9,669.7L525.1,668.7L525.3,667.6L525.6,666.5L525.8,665.4L526.0,664.2L526.2,663.0L526.5,661.8L526.7,660.6L526.9,659.3L527.1,658.0L527.3,656.8L527.5,655.5L527.8,654.3L528.0,653.0L528.2,651.8L528.4,650.6L528.6,649.4L528.8,648.3L529.1,647.2L529.3,646.1L529.5,645.1L529.7,644.2L529.9,643.2L530.1,642.4L530.5,640.7L530.9,639.2L531.3,637.9L531.7,636.8L532.1,635.7L532.4,634.8L532.8,633.9L533.3,633.1L533.7,632.3L534.2,631.4L534.8,630.6L535.5,629.7L536.2,628.8L537.0,627.9L537.8,627.2L538.6,626.4L539.5,625.7L540.4,625.1L541.3,624.5L542.2,623.9L543.1,623.4L544.1,623.0L545.1,622.7L546.2,622.5L547.2,622.4L548.3,622.3L549.4,622.1L550.5,621.9L551.5,621.6L552.6,621.1L553.5,620.6L554.3,620.0L555.2,619.3L556.1,618.5L556.9,617.7L557.8,616.9L558.6,616.1L559.5,615.2L560.4,614.4L561.2,613.6L562.1,612.8L563.0,612.0L563.8,611.2L564.7,610.4L565.6,609.5L566.5,608.7L567.4,607.9L568.2,607.1L569.1,606.3L569.9,605.7L570.8,605.0L571.6,604.5L572.7,603.9L573.8,603.4L574.8,602.9L575.9,602.6L576.9,602.3L577.9,602.2L578.9,602.1L579.9,602.1L581.0,602.2L582.0,602.4L583.1,602.6L584.1,603.0L585.1,603.6L586.1,604.3L587.1,605.3L587.7,606.0L588.3,606.8L588.9,607.7L589.5,608.6L590.1,609.6L590.7,610.7L591.3,611.8L591.9,612.9L592.5,614.0L593.1,615.1L593.6,616.2L594.2,617.2L594.7,618.2L595.3,619.3L595.8,620.3L596.3,621.4L596.8,622.5L597.3,623.5L597.8,624.6L598.2,625.6L598.7,626.5L599.2,627.4L599.7,628.3L600.2,629.0L601.0,630.2L601.9,631.2L602.7,632.2L603.6,632.9L604.4,633.5L605.3,633.8L606.1,633.8L606.8,633.5L607.6,633.1L608.3,632.4L609.0,631.6L609.8,630.6L610.5,629.4L611.3,628.1L612.0,626.6L612.4,625.8L612.7,624.9L613.1,623.9L613.5,622.8L613.9,621.7L614.2,620.5L614.6,619.4L615.0,618.1L615.4,616.9L615.8,615.7L616.1,614.5L616.5,613.2L616.9,612.1L617.3,610.9L617.6,609.8L618.0,608.8L618.5,607.6L618.9,606.3L619.4,605.1L619.8,603.9L620.3,602.6L620.7,601.5L621.2,600.3L621.6,599.2L622.1,598.2L622.5,597.2L623.0,596.2L623.4,595.4L623.9,594.6L624.7,593.4L625.5,592.4L626.3,591.7L627.1,591.1L627.9,590.6L628.9,590.2L629.9,589.9L630.9,589.7L632.1,589.6L633.3,589.7L634.5,589.8L635.8,589.9L637.0,590.0L638.2,590.0L639.3,589.9L640.4,589.6L641.5,589.3L642.5,588.8L643.5,588.3L644.4,587.8L645.4,587.4L646.5,586.9L647.5,586.5L648.5,586.0L649.5,585.5L650.6,585.0L651.6,584.5L652.7,584.2L653.8,584.0L654.8,583.9L655.8,584.1L656.8,584.4L657.8,584.9L658.8,585.4L659.8,586.0L660.9,586.6L661.9,587.1L663.1,587.5L664.2,587.7L665.3,587.9L666.5,587.9L667.8,588.0L669.0,588.1L670.2,588.1L671.5,588.2L672.7,588.4L673.8,588.7L674.9,589.0L676.0,589.4L677.1,589.8L678.2,590.2L679.3,590.7L680.4,591.3L681.4,591.9L682.4,592.6L683.3,593.4L684.0,594.1L684.7,595.0L685.4,595.9L686.1,596.8L686.7,597.8L687.3,598.8L687.9,599.9L688.5,600.9L689.1,602.0L689.8,603.1L690.4,604.1L691.0,605.1L691.6,606.1L692.2,607.2L692.8,608.2L693.4,609.3L694.0,610.4L694.5,611.5L695.1,612.5L695.7,613.5L696.3,614.4L696.9,615.3L697.5,616.0L698.4,617.0L699.3,618.0L700.2,618.8L701.0,619.5L701.9,620.1L702.8,620.5L703.7,620.7L704.6,620.7L705.4,620.4L706.2,619.8L707.0,619.0L707.8,618.1L708.6,617.1L709.4,616.1L710.2,615.1L711.0,614.2L711.8,613.6L712.8,612.9L713.8,612.4L714.8,611.9L715.9,611.5L716.9,611.2L717.9,611.1L718.9,611.2L719.8,611.4L720.7,611.6L721.6,612.0L722.5,612.5L723.3,613.1L724.2,613.9L725.1,614.8L726.0,616.0L726.5,616.7L727.0,617.5L727.4,618.5L727.9,619.4L728.4,620.5L728.9,621.6L729.4,622.7L729.9,623.8L730.3,625.0L730.8,626.1L731.3,627.3L731.8,628.4L732.2,629.4L732.7,630.5L733.1,631.4L733.6,632.5L734.2,633.7L734.7,634.8L735.2,635.9L735.7,637.0L736.2,638.0L736.7,639.0L737.1,640.0L737.6,640.9L738.1,641.8L738.6,642.6L739.1,643.3L739.9,644.4L740.8,645.3L741.6,646.1L742.5,646.8L743.3,647.3L744.2,647.7L745.0,648.0L746.0,648.2L746.9,648.3L747.9,648.2L748.8,647.9L749.8,647.5L750.9,646.8L751.6,646.3L752.2,645.7L752.9,645.0L753.6,644.2L754.3,643.4L755.0,642.5L755.7,641.6L756.5,640.6L757.2,639.6L758.0,638.5L758.6,637.6L759.3,636.7L759.9,635.7L760.6,634.6L761.3,633.5L762.0,632.4L762.7,631.3L763.4,630.2L764.1,629.1L764.7,628.1L765.3,627.1L765.9,626.3L766.4,625.5L767.4,624.1L768.2,623.0L768.9,622.1L769.6,621.3L770.3,620.6L771.0,620.0L771.9,619.4L772.9,618.9L773.8,618.6L774.9,618.3L776.0,618.0L776.9,617.7L777.8,617.2L778.8,616.8L779.9,616.4L780.9,616.1L782.0,615.9L783.0,616.0L783.9,616.2L784.8,616.6L785.7,617.0L786.7,617.6L787.6,618.2L788.5,618.9L789.4,619.8L790.2,620.7L790.8,621.5L791.3,622.3L791.8,623.3L792.3,624.3L792.8,625.4L793.3,626.4L793.8,627.5L794.4,628.6L794.9,629.6L795.5,630.5L796.1,631.4L796.8,632.3L797.6,633.1L798.5,633.8L799.4,634.6L800.2,635.2L801.1,635.9L802.0,636.6L802.8,637.2L803.7,637.9L804.4,638.5L805.3,639.3L806.1,640.0L806.9,640.7L807.6,641.4L808.3,642.0L809.0,642.8L809.7,643.6L810.4,644.5L811.0,645.4L811.5,646.5L812.0,647.6L812.5,648.7L813.0,649.9L813.5,651.1L814.0,652.1L814.5,653.1L815.1,654.0L815.9,655.0L816.7,656.0L817.5,656.8L818.4,657.6L819.3,658.2L820.1,658.6L821.0,658.7L821.9,658.6L822.7,658.2L823.6,657.6L824.4,656.8L825.3,656.0L826.1,655.0L827.0,654.0L827.6,653.2L828.2,652.3L828.8,651.3L829.4,650.2L830.0,649.1L830.5,648.0L831.1,647.0L831.7,646.0L832.3,645.2L832.9,644.5L833.9,643.6L834.9,642.9L835.8,642.3L836.8,642.0L837.8,641.9L838.8,642.1L839.6,642.4L840.3,642.9L841.1,643.5L841.9,644.2L842.6,645.1L843.4,646.0L844.1,647.0L844.8,648.0L845.3,648.9L845.8,649.9L846.3,651.1L846.8,652.3L847.2,653.5L847.7,654.7L848.1,655.9L848.6,656.9L849.0,657.9L849.5,658.7L850.4,660.1L851.3,661.2L852.2,662.1L853.2,662.5L854.3,662.3L854.9,661.9L855.6,661.4L856.2,660.6L856.9,659.8L857.6,658.8L858.4,657.8L859.1,656.8L859.9,655.8L860.6,654.8L861.4,654.0L862.2,653.2L863.0,652.5L863.9,651.8L864.7,651.1L865.6,650.4L866.5,649.7L867.3,649.0L868.2,648.3L869.0,647.6L869.7,646.8L870.5,646.0L871.2,645.1L871.8,644.3L872.5,643.4L873.1,642.6L873.7,641.7L874.3,640.7L875.0,639.6L875.6,638.5L876.1,637.6L876.6,636.5L877.1,635.4L877.6,634.3L878.0,633.1L878.5,631.9L879.0,630.7L879.5,629.6L880.0,628.5L880.5,627.4L881.1,626.4L881.6,625.5L882.3,624.4L883.0,623.5L883.7,622.7L884.4,621.9L885.2,621.2L885.9,620.5L886.8,619.8L887.7,619.1L888.7,618.3L889.5,617.7L890.4,617.1L891.3,616.4L892.2,615.8L893.1,615.1L894.1,614.5L895.2,613.9L896.2,613.3L897.3,612.7L898.4,612.1L899.5,611.6L900.6,611.2L901.6,610.9L902.7,610.5L903.8,610.2L905.0,609.9L906.1,609.7L907.3,609.4L908.5,609.2L909.7,609.0L910.9,608.8L912.0,608.7L913.1,608.5L914.1,608.4L915.1,608.3L916.0,608.2L917.5,608.1L918.9,608.2L920.0,608.4L921.0,608.6L922.0,608.8L923.1,608.9L924.3,608.8L925.3,608.6L926.3,608.4L927.4,608.1L928.4,607.7L929.5,607.3L930.6,606.9L931.7,606.4L932.7,605.9L933.8,605.3L934.7,604.7L935.6,604.1L936.5,603.4L937.4,602.7L938.3,602.0L939.2,601.2L940.2,600.5L941.2,599.7L942.2,598.9L943.3,598.2L944.2,597.6L945.1,597.0L946.0,596.4L946.9,595.8L947.9,595.2L948.8,594.6L949.8,594.0L950.9,593.4L951.9,592.8L953.0,592.3L954.1,591.8L955.2,591.4L956.3,591.0L957.3,590.7L958.4,590.5L959.5,590.3L960.6,590.2L961.8,590.1L962.9,590.0L964.1,589.9L965.3,589.8L966.5,589.8L967.6,589.7L968.8,589.6L969.9,589.6L971.0,589.5L972.1,589.4L973.1,589.2L974.3,589.0L975.5,588.7L976.6,588.5L977.8,588.2L978.8,587.9L979.9,587.6L981.0,587.3L982.0,587.0L983.0,586.7L984.0,586.4L985.1,586.2L986.1,585.9L987.2,585.6L988.4,585.3L989.5,585.0L990.7,584.7L991.8,584.4L993.0,584.1L994.0,583.9L995.1,583.7L996.1,583.5L997.0,583.4L997.9,583.3L999.3,583.3L1000.5,583.4L1001.5,583.6L1002.4,583.9L1003.4,584.5L1004.4,585.3L1005.0,585.9L1005.7,586.7L1006.4,587.7L1007.0,588.7L1007.6,589.7L1008.3,590.8L1008.9,591.8L1009.6,592.8L1010.2,593.7L1010.9,594.4L1011.8,595.3L1012.8,596.3L1013.7,597.1L1014.6,597.8L1015.5,598.3L1016.5,598.5L1017.4,598.3L1018.1,597.9L1018.7,597.4L1019.3,596.6L1020.0,595.7L1020.6,594.7L1021.3,593.7L1021.9,592.5L1022.6,591.4L1023.3,590.3L1024.0,589.2L1024.6,588.3L1025.2,587.4L1025.8,586.4L1026.5,585.4L1027.1,584.4L1027.7,583.4L1028.4,582.4L1029.1,581.3L1029.7,580.3L1030.4,579.3L1031.1,578.3L1031.8,577.4L1032.5,576.5L1033.2,575.6L1033.9,574.7L1034.6,573.8L1035.3,573.0L1036.1,572.1L1036.8,571.3L1037.6,570.4L1038.4,569.6L1039.2,568.7L1040.1,567.2L1041.0,567.6L1041.8,565.8L1042.6,565.8L1043.5,564.1L1044.4,564.2L1045.3,562.7L1046.2,562.6L1047.2,560.7L1048.1,560.8L1049.1,559.2L1050.1,559.4L1051.1,557.9L1052.0,558.0L1053.0,556.4L1054.0,556.9L1055.1,555.6L1056.1,556.2L1057.2,555.2L1058.3,555.7L1059.4,554.7L1060.5,555.1L1061.6,554.5L1062.7,554.9L1063.8,554.2L1065.0,554.9L1066.1,553.8L1067.2,554.8L1068.4,553.2L1069.5,554.4L1070.5,553.2L1071.6,553.8L1072.7,552.9L1073.7,553.5L1074.8,552.3L1075.9,553.3L1077.0,551.9L1078.1,552.7L1079.2,551.7L1080.4,552.4L1081.6,551.5L1082.8,551.8L1084.0,550.9L1085.0,551.4L1086.1,550.3L1087.2,551.0L1088.3,550.2L1089.5,550.5L1090.6,549.6L1091.8,550.0L1093.0,549.0L1094.1,549.6L1095.3,548.6L1096.5,549.2L1097.7,548.1L1098.9,548.9L1100.1,547.3L1101.3,548.3L1102.4,547.2L1103.6,547.9L1104.8,546.7L1105.9,547.3L1107.1,546.5L1108.2,547.3L1109.4,546.4L1110.5,546.8L1111.7,545.8L1112.8,546.7L1114.0,545.7L1115.1,546.8L1116.3,545.5L1117.4,546.3L1118.6,545.1L1119.7,546.1L1120.9,545.4L1122.0,546.1L1123.2,545.2L1124.4,545.8L1125.5,544.7L1126.7,545.8L1127.8,545.0L1129.0,545.6L1130.1,544.7L1131.3,545.5L1132.4,544.7L1133.6,545.4L1134.7,544.6L1135.9,545.2L1137.0,544.4L1138.2,545.5L1139.3,544.5L1140.5,545.4L1141.6,544.5L1142.8,545.3L1144.0,544.4L1145.1,545.3L1146.2,544.3L1147.4,545.4L1148.5,544.8L1149.7,545.4L1150.8,545.0L1152.0,545.9L1153.1,544.9L1154.3,546.2L1155.4,545.1L1156.6,545.9L1157.7,545.3L1158.9,546.5L1160.0,545.4L1161.2,546.5L1162.4,545.7L1163.5,546.6L1164.7,545.6L1165.8,546.6L1166.9,545.8L1168.1,546.7L1169.3,545.6L1170.4,546.9L1171.6,545.6L1172.8,547.0L1173.9,546.0L1175.1,546.7L1176.2,546.0L1177.4,546.8L1178.6,546.1L1179.7,547.1L1180.8,546.0L1182.0,547.2L1183.1,546.2L1184.3,547.2L1185.4,546.7L1186.6,548.0L1187.8,547.2L1188.9,548.1L1190.1,547.6L1191.2,548.4L1192.3,547.7L1193.5,549.3L1194.6,548.3L1195.8,549.3L1196.9,548.9L1198.0,549.8L1199.2,549.1L1200.3,550.3L1201.5,548.1L1202.6,552.0L1203.8,548.9L1204.9,552.2L1206.1,547.3L1207.2,552.7L1208.4,549.1L1209.5,552.2L1210.7,547.8L1211.8,551.6L1213.0,547.4L1214.1,552.0L1215.3,547.7L1216.4,551.8L1217.6,547.0L1218.7,552.5L1219.9,547.8L1221.0,551.0L1222.2,548.0L1223.4,550.7L1224.5,547.5L1225.7,552.4L1226.8,548.2L1228.0,551.4L1229.1,547.4L1230.3,551.0L1231.4,546.7L1232.6,551.9L1233.7,546.6L1234.9,550.7L1236.0,545.9L1237.2,550.3L1238.3,546.2L1239.5,550.9L1240.6,548.1L1241.8,549.3L1243.0,548.4L1244.1,549.3L1245.3,548.5L1246.4,549.6L1247.6,548.5L1248.7,549.8L1249.9,549.2L1251.0,550.0L1252.2,549.2L1253.3,550.6L1254.5,549.6L1255.6,550.9L1256.8,550.3L1257.9,551.4L1259.1,550.3L1260.2,551.6L1261.4,550.6L1262.6,552.1L1263.7,551.4L1264.9,552.5L1266.2,551.5L1267.4,552.7L1268.6,552.0L1269.8,553.3L1271.0,552.8L1272.2,553.9L1273.4,553.3L1274.6,554.3L1275.7,553.6L1276.8,554.6L1277.9,554.1L1279.0,555.2L1280.0,554.7L1281.0,556.0L1282.3,555.4L1283.5,556.2L1284.6,556.0L1285.6,557.4L1286.6,556.7L1287.5,558.2L1288.4,557.5L1289.4,558.9L1290.4,558.4L1291.5,559.5L1292.7,559.0L1294.0,560.0L1295.0,559.8L1296.0,560.8L1297.1,560.2L1298.2,561.3L1299.3,560.3L1300.4,561.6L1301.6,560.8L1302.8,562.2L1304.0,561.2L1305.2,562.3L1306.4,561.9L1307.6,562.8L1308.8,562.1L1310.1,563.0L1311.3,562.6L1312.4,563.5L1313.6,562.4L1314.8,563.6L1315.9,562.8L1317.1,563.7L1318.2,562.9L1319.4,564.0L1320.5,563.0L1321.7,563.9L1322.8,563.0L1324.0,563.9L1325.1,562.7L1326.3,563.6L1327.4,562.8L1328.6,563.8L1329.7,562.9L1330.9,564.1L1332.0,563.1L1333.2,564.1L1334.4,563.2L1335.5,564.2L1336.7,563.6L1337.8,564.7L1339.0,564.0L1340.1,565.3L1341.3,564.3L1342.4,565.7L1343.6,565.0L1344.7,565.9L1345.9,565.4L1347.0,566.4L1348.2,565.9L1349.3,567.1L1350.5,566.4L1351.6,567.4L1352.8,566.6L1354.0,567.5L1355.2,566.9L1356.4,567.7L1357.6,567.2L1358.8,568.0L1360.1,567.2L1361.3,568.6L1362.6,567.1L1363.8,569.4L1365.0,567.7L1366.1,569.4L1367.3,567.5L1368.4,569.4L1369.5,568.4L1370.5,569.4L1371.5,568.4L1372.4,569.9L1374.0,568.4L1375.6,569.7L1377.0,568.0L1378.3,569.5L1379.5,567.8L1380.6,569.7L1381.5,568.0L1382.3,569.7L1383.0,568.6" fill="none" stroke="#ff0000" stroke-width="5.6" stroke-linejoin="round" stroke-linecap="butt"/>
<path d="M197.5,660.8L198.2,661.2L199.0,660.7L199.9,661.6L201.0,661.0L202.2,662.1L203.4,661.7L204.7,662.3L206.0,661.9L207.4,662.9L208.8,662.6L210.2,663.8L211.5,663.1L212.8,664.2L213.8,663.5L214.9,664.6L216.0,664.1L217.1,665.0L218.2,664.2L219.3,665.4L220.4,664.7L221.5,665.9L222.7,665.5L223.8,666.4L225.0,665.7L226.1,666.7L227.2,666.4L228.4,667.4L229.5,666.7L230.6,667.8L231.7,667.0L232.8,668.2L233.9,667.4L235.0,668.5L236.2,667.9L237.3,668.9L238.4,668.2L239.5,669.5L240.6,669.0L241.7,669.7L242.8,669.4L243.9,670.5L245.1,669.8L246.2,670.8L247.3,670.3L248.4,671.3L249.5,670.8L250.6,671.8L251.7,671.4L252.8,672.5L254.0,671.9L255.1,673.2L256.2,672.5L257.3,674.0L258.4,673.2L259.5,674.6L260.6,674.2L261.8,675.4L262.9,674.6L264.0,676.1L265.1,675.4L266.2,676.7L267.3,676.3L268.4,677.4L269.6,676.8L270.7,677.9L271.8,677.7L273.0,678.8L274.1,678.0L275.2,679.1L276.4,678.7L277.5,679.9L278.6,679.7L279.7,680.6L280.8,680.1L281.9,681.4L283.0,681.0L284.0,681.9L285.2,681.6L286.4,682.6L287.6,682.1L288.8,683.3L290.0,682.4L291.1,683.7L292.3,683.0L293.4,684.2L294.5,684.0L295.6,684.9L296.6,684.6L297.6,685.3L298.6,685.0L299.5,686.1L300.7,685.9L301.8,686.9L302.8,686.7L303.7,688.0L304.6,687.7L305.5,689.4L306.3,689.0L307.2,690.3L308.1,690.1L309.0,691.5L310.0,691.1L310.9,692.6L311.9,692.3L312.9,694.0L313.8,693.6L314.8,694.9L315.7,694.6L316.7,695.9L317.5,695.7L318.4,697.0L319.5,696.4L320.6,697.0L321.5,697.2L322.5,697.2L323.4,697.2L324.5,697.1L325.6,697.0L326.5,696.9L327.5,696.7L328.5,696.4L329.5,696.1L330.6,695.8L331.7,695.5L332.8,695.2L333.9,694.9L335.1,694.6L336.1,694.4L337.1,694.1L338.1,693.8L339.1,693.6L340.2,693.3L341.2,693.0L342.3,692.8L343.4,692.6L344.6,692.4L345.7,692.3L346.9,692.2L347.9,692.2L349.0,692.2L350.0,692.3L351.1,692.4L352.2,692.5L353.3,692.7L354.5,692.8L355.6,693.0L356.7,693.2L357.9,693.4L359.0,693.6L360.1,693.8L361.2,694.0L362.3,694.2L363.4,694.4L364.5,694.6L365.6,694.9L366.7,695.1L367.7,695.3L368.8,695.6L369.9,695.8L371.0,696.1L372.1,696.3L373.2,696.6L374.3,696.8L375.4,697.0L376.5,697.2L377.6,697.4L378.8,697.6L379.9,697.8L381.0,698.0L382.1,698.2L383.3,698.3L384.4,698.5L385.5,698.7L386.6,698.9L387.8,699.1L388.9,699.3L390.0,699.5L391.1,699.7L392.2,699.9L393.3,700.1L394.4,700.3L395.4,700.5L396.5,700.7L397.6,700.9L398.7,701.1L399.7,701.3L400.8,701.6L401.9,701.9L403.1,702.2L404.2,702.6L405.2,703.0L406.2,703.3L407.2,703.7L408.2,704.2L409.3,704.6L410.3,705.1L411.4,705.6L412.4,706.1L413.4,706.6L414.5,707.1L415.5,707.6L416.6,708.1L417.6,708.7L418.7,709.2L419.7,709.7L420.7,710.2L421.8,710.7L422.8,711.3L423.9,711.8L425.0,712.4L426.0,712.9L427.1,713.5L428.2,714.1L429.2,714.6L430.2,715.2L431.2,715.8L432.2,716.3L433.2,716.9L434.2,717.4L435.1,718.0L436.1,718.6L437.1,719.3L438.1,719.9L439.1,720.5L440.0,721.1L441.0,721.8L441.9,722.4L442.8,723.0L443.6,723.7L444.5,724.3L445.3,725.0L446.2,725.6L447.0,726.3L447.9,727.0L448.7,727.8L449.6,728.6L450.4,729.3L451.2,730.1L452.1,730.9L452.8,731.7L453.6,732.5L454.3,733.3L455.1,734.1L455.8,735.0L456.5,735.8L457.2,736.7L457.9,737.7L458.6,738.7L459.3,739.7L459.9,740.7L460.5,741.6L461.1,742.6L461.7,743.6L462.3,744.6L463.0,745.6L463.6,746.5L464.3,747.5L465.0,748.5L465.7,749.5L466.4,750.5L467.2,751.5L467.9,752.4L468.6,753.4L469.3,754.3L470.0,755.2L470.7,756.0L471.5,756.9L472.3,757.7L473.1,758.4L473.9,759.1L474.7,759.8L475.5,760.6L476.3,761.3L477.1,762.2L477.8,763.1L478.4,763.9L479.0,764.8L479.6,765.7L480.1,766.6L480.7,767.6L481.2,768.6L481.8,769.6L482.3,770.6L482.8,771.7L483.3,772.7L483.8,773.8L484.2,774.8L484.7,775.8L485.1,776.8L485.5,777.8L485.9,778.8L486.3,779.9L486.7,780.9L487.1,782.0L487.4,783.2L487.8,784.3L488.2,785.5L488.5,786.8L488.8,787.8L489.0,788.8L489.2,789.8L489.5,790.8L489.7,791.8L489.9,792.9L490.2,793.9L490.4,795.0L490.6,796.1L490.8,797.3L491.0,798.4L491.2,799.6L491.4,800.8L491.7,802.1L491.9,803.3L492.1,804.6L492.3,805.6L492.4,806.6L492.6,807.7L492.8,808.8L492.9,809.9L493.1,811.0L493.3,812.1L493.4,813.2L493.6,814.4L493.8,815.5L493.9,816.7L494.1,817.9L494.3,819.1L494.4,820.3L494.6,821.4L494.8,822.6L494.9,823.8L495.1,825.0L495.3,826.1L495.4,827.3L495.6,828.4L495.8,829.6L496.0,830.8L496.1,831.9L496.3,833.1L496.5,834.3L496.7,835.4L496.9,836.6L497.1,837.8L497.3,838.9L497.4,840.1L497.6,841.3L497.8,842.5L498.0,843.6L498.2,844.8L498.4,846.0L498.5,847.2L498.7,848.4L498.9,849.6L499.0,850.9L499.2,852.1L499.3,853.2L499.5,854.4L499.6,855.5L499.8,856.6L499.9,857.7L500.0,858.9L500.2,860.0L500.3,861.1L500.4,862.3L500.5,863.4L500.7,864.6L500.8,865.7L500.9,866.9L501.0,868.1L501.1,869.3L501.3,870.5L501.4,871.7L501.5,872.9L501.6,874.2L501.8,875.4L501.9,876.7L502.0,878.0L502.1,879.1L502.2,880.1L502.3,881.2L502.4,882.3L502.5,883.4L502.6,884.5L502.7,885.6L502.7,886.7L502.8,887.8L502.9,888.9L503.0,890.0L503.1,891.1L503.2,892.3L503.3,893.4L503.4,894.6L503.5,895.8L503.6,896.9L503.7,898.1L503.8,899.3L503.9,900.6L504.0,901.8L504.1,903.0L504.2,904.3L504.3,905.5L504.4,906.8L504.6,908.1L504.7,909.4L504.8,910.4L504.9,911.5L505.0,912.6L505.2,913.7L505.3,914.8L505.4,915.9L505.6,917.0L505.7,918.1L505.8,919.3L506.0,920.4L506.1,921.6L506.2,922.7L506.4,923.9L506.5,925.1L506.7,926.2L506.8,927.4L507.0,928.6L507.1,929.8L507.3,931.0L507.4,932.2L507.6,933.4L507.7,934.6L507.9,935.8L508.0,937.0L508.2,938.2L508.3,939.4L508.5,940.6L508.6,941.7L508.7,942.9L508.9,944.1L509.0,945.3L509.1,946.5L509.3,947.6L509.4,948.8L509.5,950.0L509.7,951.2L509.8,952.5L509.9,953.7L510.0,955.0L510.2,956.3L510.3,957.6L510.4,958.9L510.5,960.2L510.7,961.5L510.8,962.9L510.9,964.2L511.0,965.5L511.1,966.8L511.3,968.1L511.4,969.4L511.5,970.7L511.6,972.0L511.7,973.3L511.9,974.5L512.0,975.7L512.1,976.9L512.2,978.1L512.3,979.3L512.4,980.4L512.5,981.5L512.6,982.6L512.8,983.6L512.9,984.6L513.0,985.6L513.1,986.5L513.2,987.4L513.3,988.2L513.6,990.2L513.8,992.1L514.1,993.8L514.3,995.4L514.5,996.8L514.8,998.1L515.0,999.2L515.3,1000.2L515.5,1001.0L515.7,1001.6L516.0,1002.0L516.2,1002.3L516.5,1002.4L516.8,1002.3L517.1,1002.0L517.4,1001.6L517.6,1001.0L517.9,1000.2L518.2,999.2L518.6,998.1L518.9,996.8L519.2,995.4L519.5,993.8L519.8,992.1L520.1,990.2L520.4,988.2L520.5,987.4L520.6,986.5L520.7,985.6L520.9,984.7L521.0,983.8L521.1,982.8L521.2,981.7L521.3,980.7L521.5,979.6L521.6,978.5L521.7,977.3L521.8,976.2L521.9,975.0L522.0,973.8L522.2,972.6L522.3,971.3L522.4,970.1L522.5,968.8L522.6,967.6L522.8,966.3L522.9,965.0L523.0,963.7L523.1,962.4L523.2,961.2L523.3,959.9L523.5,958.6L523.6,957.3L523.7,956.1L523.8,954.8L523.9,953.6L524.1,952.4L524.2,951.2L524.3,950.0L524.4,948.8L524.5,947.6L524.6,946.4L524.8,945.2L524.9,944.0L525.0,942.8L525.1,941.6L525.2,940.4L525.3,939.2L525.5,938.0L525.6,936.8L525.7,935.6L525.8,934.4L525.9,933.2L526.0,932.0L526.2,930.8L526.3,929.6L526.4,928.4L526.5,927.2L526.6,926.0L526.7,924.8L526.9,923.6L527.0,922.4L527.1,921.2L527.2,920.0L527.3,918.8L527.5,917.6L527.6,916.4L527.7,915.3L527.8,914.1L527.9,912.9L528.1,911.7L528.2,910.6L528.3,909.4L528.4,908.2L528.6,907.0L528.7,905.8L528.8,904.5L528.9,903.3L529.1,902.1L529.2,900.9L529.3,899.6L529.5,898.4L529.6,897.2L529.7,895.9L529.9,894.7L530.0,893.5L530.2,892.3L530.3,891.1L530.4,889.9L530.6,888.6L530.7,887.5L530.8,886.3L531.0,885.1L531.1,883.9L531.2,882.8L531.4,881.6L531.5,880.5L531.6,879.4L531.8,878.3L531.9,877.2L532.0,876.1L532.1,875.1L532.3,874.0L532.4,873.0L532.5,872.0L532.7,870.6L532.8,869.2L533.0,867.8L533.2,866.5L533.3,865.2L533.5,863.9L533.6,862.7L533.8,861.4L533.9,860.2L534.1,859.0L534.2,857.9L534.4,856.7L534.5,855.6L534.7,854.5L534.8,853.4L535.0,852.3L535.1,851.3L535.3,850.2L535.5,849.2L535.6,848.2L535.8,847.2L536.0,846.2L536.3,844.9L536.5,843.5L536.8,842.2L537.1,841.0L537.4,839.7L537.7,838.5L538.0,837.3L538.3,836.2L538.6,835.1L538.9,834.0L539.2,833.0L539.5,832.0L539.8,831.0L540.1,830.1L540.4,829.2L540.7,828.4L541.3,826.9L541.8,825.6L542.2,824.5L542.7,823.5L543.3,822.6L543.9,821.8L544.6,821.0L545.5,820.1L546.2,819.5L547.1,818.8L548.0,818.2L548.9,817.6L549.9,817.0L550.9,816.4L552.0,815.9L553.0,815.4L554.1,814.9L555.2,814.5L556.2,814.1L557.2,813.7L558.3,813.4L559.4,813.1L560.5,812.8L561.6,812.5L562.6,812.3L563.7,812.1L564.8,812.0L565.9,811.9L567.0,811.8L568.0,811.8L569.1,811.8L570.3,811.9L571.4,812.0L572.5,812.1L573.6,812.3L574.7,812.6L575.8,812.9L576.8,813.2L577.8,813.6L578.7,814.1L579.7,814.7L580.6,815.2L581.4,815.9L582.2,816.6L583.0,817.4L583.7,818.2L584.5,819.2L585.2,820.3L586.0,821.5L586.5,822.3L587.0,823.2L587.5,824.2L587.9,825.2L588.4,826.3L588.9,827.4L589.4,828.5L589.9,829.7L590.4,830.8L590.8,831.9L591.3,833.1L591.8,834.2L592.2,835.2L592.7,836.2L593.1,837.2L593.7,838.5L594.3,839.7L594.8,840.9L595.4,842.1L595.9,843.3L596.5,844.4L597.0,845.5L597.5,846.5L598.0,847.4L598.5,848.2L599.0,849.0L600.0,850.4L600.9,851.5L601.8,852.3L602.7,852.7L603.7,852.6L604.4,852.3L605.1,851.7L605.9,851.0L606.6,850.2L607.4,849.2L608.2,848.0L608.9,846.8L609.7,845.5L610.2,844.6L610.6,843.7L611.0,842.7L611.4,841.6L611.9,840.5L612.3,839.3L612.7,838.1L613.2,836.9L613.6,835.7L614.1,834.6L614.6,833.4L615.1,832.3L615.6,831.2L616.2,830.1L616.7,829.1L617.3,828.0L617.9,826.9L618.6,825.8L619.2,824.8L619.9,823.7L620.5,822.7L621.2,821.7L621.9,820.8L622.5,819.9L623.2,819.0L623.9,818.2L624.8,817.2L625.7,816.3L626.6,815.5L627.5,814.7L628.4,814.0L629.4,813.3L630.3,812.7L631.3,812.1L632.3,811.5L633.4,811.0L634.4,810.6L635.5,810.2L636.6,809.9L637.7,809.6L638.8,809.3L640.0,809.1L641.1,808.8L642.2,808.7L643.3,808.5L644.3,808.3L645.3,808.1L646.7,807.8L647.9,807.6L649.0,807.3L650.1,807.2L651.2,807.0L652.4,806.9L653.6,806.9L654.7,806.9L655.9,807.0L657.1,807.1L658.3,807.3L659.5,807.5L660.7,807.7L661.9,807.9L663.1,808.1L664.1,808.3L665.2,808.5L666.2,808.7L667.3,808.9L668.3,809.1L669.3,809.3L670.4,809.5L671.5,809.7L672.6,809.9L673.7,810.0L674.9,810.1L676.2,810.1L677.4,810.2L678.6,810.2L679.9,810.3L681.1,810.4L682.2,810.7L683.3,811.0L684.3,811.4L685.3,812.0L686.3,812.6L687.2,813.3L688.1,814.0L689.0,814.7L689.9,815.5L690.7,816.3L691.6,817.0L692.4,817.8L693.3,818.5L694.1,819.4L694.8,820.2L695.6,821.0L696.4,821.9L697.1,822.7L697.9,823.4L698.7,824.1L699.6,824.8L700.5,825.6L701.4,826.3L702.2,827.0L703.1,827.6L704.0,828.1L704.9,828.5L705.8,828.8L707.0,829.0L708.1,829.1L709.2,829.0L710.4,828.7L711.6,828.3L712.9,827.7L713.7,827.2L714.6,826.6L715.5,825.9L716.4,825.1L717.3,824.3L718.3,823.4L719.3,822.6L720.3,821.8L721.3,821.1L722.4,820.5L723.4,820.0L724.5,819.6L725.6,819.1L726.7,818.7L727.8,818.4L729.0,818.0L730.1,817.7L731.2,817.4L732.3,817.0L733.3,816.7L734.3,816.4L735.5,815.9L736.6,815.4L737.6,815.0L738.6,814.5L739.6,814.1L740.5,813.7L741.5,813.5L742.6,813.4L743.6,813.4L744.6,813.6L745.6,813.8L746.6,814.1L747.6,814.4L748.7,814.8L749.8,815.2L750.9,815.5L752.1,815.8L753.1,816.0L754.1,816.3L755.1,816.5L756.2,816.7L757.3,817.0L758.4,817.2L759.5,817.4L760.6,817.6L761.7,817.8L762.9,818.0L764.0,818.2L765.2,818.3L766.4,818.4L767.6,818.5L768.9,818.6L770.2,818.7L771.4,818.7L772.7,818.8L773.9,818.8L775.0,818.9L776.1,819.1L777.1,819.2L778.5,819.5L779.7,819.8L780.9,820.1L781.9,820.4L782.9,820.9L783.9,821.3L785.0,821.8L786.0,822.2L787.0,822.6L788.0,822.9L789.0,823.3L790.0,823.8L790.9,824.5L791.8,825.4L792.6,826.6L793.0,827.4L793.3,828.2L793.7,829.2L794.0,830.2L794.2,831.3L794.5,832.5L794.8,833.7L795.0,834.9L795.3,836.1L795.6,837.4L795.9,838.6L796.2,839.9L796.5,841.0L796.9,842.2L797.3,843.3L797.8,844.4L798.3,845.5L798.8,846.6L799.3,847.7L799.9,848.7L800.5,849.8L801.1,850.9L801.7,852.0L802.4,853.0L803.0,854.1L803.5,855.1L804.1,856.0L804.6,857.0L805.1,857.8L805.6,858.7L806.3,860.0L806.9,861.0L807.5,862.0L808.0,862.9L808.5,863.7L808.9,864.6L809.4,865.6L809.9,866.8L810.4,868.2L810.7,869.1L811.0,870.1L811.3,871.1L811.6,872.2L811.8,873.3L812.1,874.5L812.4,875.7L812.7,876.9L813.0,878.1L813.3,879.3L813.5,880.5L813.8,881.7L814.1,882.8L814.5,883.9L814.8,885.0L815.1,886.0L815.5,887.3L816.0,888.7L816.5,890.2L817.0,891.7L817.5,893.1L818.0,894.4L818.5,895.7L819.0,896.8L819.5,897.7L820.0,898.4L820.5,898.8L821.0,899.0L821.5,898.8L822.0,898.4L822.5,897.7L823.0,896.9L823.5,895.8L824.0,894.6L824.5,893.2L825.0,891.8L825.5,890.4L826.0,888.9L826.5,887.4L827.0,886.0L827.3,885.1L827.6,884.1L828.0,883.0L828.3,881.9L828.6,880.8L828.9,879.7L829.2,878.5L829.5,877.3L829.8,876.1L830.1,874.9L830.4,873.7L830.8,872.5L831.1,871.4L831.4,870.2L831.8,869.0L832.1,867.9L832.5,866.8L832.9,865.8L833.4,864.6L833.8,863.5L834.3,862.3L834.9,861.1L835.4,859.9L835.9,858.7L836.5,857.5L837.0,856.4L837.6,855.3L838.2,854.2L838.7,853.2L839.2,852.3L839.8,851.4L840.3,850.6L840.7,849.8L841.2,849.2L842.3,847.9L843.4,847.0L844.4,846.6L845.3,846.5L846.2,846.5L847.2,846.8L847.9,847.2L848.6,847.8L849.3,848.6L849.9,849.5L850.6,850.5L851.4,851.4L852.2,852.2L853.1,852.8L854.0,853.2L854.9,853.5L855.9,853.7L856.9,853.8L858.0,853.9L859.1,854.1L860.3,854.3L861.4,854.6L862.6,855.1L863.5,855.6L864.5,856.1L865.5,856.8L866.6,857.5L867.6,858.3L868.7,859.1L869.8,859.8L870.8,860.5L871.8,861.1L872.8,861.7L873.7,862.1L874.5,862.3L875.8,862.4L876.9,862.2L877.9,861.8L878.8,861.2L879.7,860.5L880.6,859.6L881.6,858.7L882.3,858.0L883.0,857.2L883.7,856.3L884.4,855.4L885.2,854.4L885.9,853.4L886.6,852.3L887.3,851.3L888.0,850.2L888.7,849.2L889.3,848.3L890.0,847.3L890.6,846.2L891.2,845.2L891.9,844.1L892.5,843.1L893.1,842.1L893.8,841.1L894.4,840.2L895.1,839.3L895.8,838.5L896.6,837.6L897.4,836.9L898.3,836.2L899.1,835.6L899.9,835.0L900.8,835.0L901.8,833.7L902.9,833.8L904.1,832.0L904.9,832.4L905.8,831.0L906.7,831.6L907.6,830.1L908.6,830.4L909.6,828.7L910.7,829.2L911.7,827.6L912.8,828.1L913.9,826.3L915.0,826.8L916.1,825.8L917.3,826.4L918.4,824.7L919.5,825.7L920.6,824.7L921.7,825.8L922.9,824.8L924.1,825.7L925.3,824.9L926.5,825.9L927.7,825.0L928.9,826.1L930.1,825.4L931.4,826.7L932.6,825.9L933.8,826.9L935.0,825.8L936.2,827.0L937.4,826.3L938.6,827.5L939.8,826.6L941.0,827.4L942.2,826.7L943.4,828.0L944.6,827.2L945.8,828.0L947.0,827.3L948.2,828.6L949.4,827.5L950.6,828.8L951.7,827.9L952.9,828.7L954.0,827.8L955.2,829.2L956.4,828.1L957.5,829.0L958.7,828.4L959.8,829.3L961.0,828.5L962.1,829.6L963.2,828.2L964.4,829.3L965.5,828.6L966.6,829.7L967.7,828.4L968.9,829.7L970.0,828.6L971.1,829.3L972.2,828.5L973.3,829.5L974.3,828.4L975.3,829.1L976.4,828.1L977.4,828.9L978.5,827.9L979.6,829.8L980.8,827.5L982.0,828.5L983.3,826.4L984.6,829.3L986.1,826.1L987.1,828.6L988.1,826.0L989.3,828.3L990.4,827.1L991.6,828.1L992.8,826.7L994.1,827.9L995.4,826.2L996.7,828.0L998.0,826.3L999.3,827.8L1000.7,826.5L1002.0,828.1L1003.2,826.1L1004.5,828.3L1005.7,826.3L1007.0,828.2L1008.1,826.1L1009.2,827.4L1010.3,825.8L1011.3,827.2L1012.2,825.8L1013.7,826.5L1015.0,825.4L1016.1,826.2L1017.0,825.3L1017.9,826.1L1018.8,824.7L1019.6,825.5L1020.5,824.1L1021.4,825.3L1022.5,824.1L1023.8,824.8L1025.3,823.7L1026.2,824.9L1027.2,823.7L1028.2,824.9L1029.3,824.1L1030.3,825.1L1031.5,823.9L1032.6,825.0L1033.8,824.0L1035.0,825.6L1036.3,824.2L1037.5,825.7L1038.8,824.8L1040.1,825.7L1041.4,824.5L1042.6,825.6L1043.9,823.9L1045.2,826.9L1046.5,823.5L1047.7,827.4L1049.0,823.8L1050.2,828.2L1051.4,824.8L1052.6,826.7L1053.8,824.6L1055.1,826.9L1056.3,824.7L1057.6,828.7L1058.9,823.0L1060.2,826.8L1061.4,823.7L1062.7,827.2L1064.0,824.1L1065.3,827.2L1066.5,825.0L1067.8,826.1L1069.0,825.0L1070.2,825.8L1071.3,825.0L1072.5,825.6L1073.5,824.7L1074.6,825.8L1075.6,824.7L1076.6,825.4L1077.5,824.7L1079.1,825.3L1080.5,824.1L1081.8,825.2L1083.1,823.9L1084.2,824.8L1085.3,823.3L1086.3,824.2L1087.2,823.0L1088.1,823.7L1088.9,822.3L1089.8,823.1L1090.6,821.8L1091.8,822.4L1092.7,821.0L1093.5,821.3L1094.2,819.6L1095.0,819.9L1095.9,818.6L1097.1,819.0L1097.9,817.5L1098.8,818.7L1099.8,817.2L1100.7,818.1L1101.8,816.4L1102.8,817.2L1104.0,816.1L1105.1,816.7L1106.3,815.4L1107.6,816.4L1108.9,814.8L1110.2,816.0L1111.2,814.5L1112.2,815.6L1113.3,814.2L1114.3,814.8L1115.5,813.8L1116.6,814.4L1117.8,813.7L1118.9,814.5L1120.1,813.3L1121.3,813.7L1122.6,812.9L1123.8,813.8L1125.0,812.5L1126.2,812.9L1127.4,811.7L1128.5,812.5L1129.7,811.3L1130.9,812.4L1132.1,810.8L1133.3,812.0L1134.5,810.4L1135.8,811.3L1137.0,810.0L1138.3,810.7L1139.5,809.1L1140.8,810.0L1142.0,808.8L1143.1,809.5L1144.3,807.8L1145.4,808.7L1146.5,807.8L1147.5,808.7L1148.4,807.4L1149.3,808.5L1150.8,808.0L1152.0,809.1L1153.1,808.8L1154.0,810.8L1154.8,810.5L1155.6,812.1L1156.5,811.9L1157.4,813.4L1158.5,812.8L1159.5,813.7L1160.6,813.0L1161.6,814.2L1162.7,812.8L1163.8,813.8L1164.9,812.6L1166.1,814.2L1167.3,811.1L1168.6,813.8L1170.0,811.1L1171.0,813.4L1172.1,810.9L1173.2,813.8L1174.3,811.4L1175.6,812.7L1176.8,810.5L1178.0,813.7L1179.3,810.8L1180.5,813.0L1181.7,810.5L1182.9,812.7L1184.0,811.0L1185.1,812.7L1186.1,810.7L1187.0,812.9L1188.4,811.8L1189.4,813.0L1190.2,811.9L1191.0,813.4L1191.8,812.7L1192.8,814.1L1194.2,813.1L1196.1,814.6L1196.9,813.7L1197.8,814.4L1198.7,813.8L1199.6,814.6L1200.6,813.7L1201.6,814.5L1202.7,813.7L1203.8,814.6L1204.9,813.5L1206.1,814.5L1207.3,813.3L1208.5,814.6L1209.7,813.5L1211.0,814.6L1212.3,813.4L1213.7,814.8L1215.0,813.5L1216.4,814.5L1217.8,813.4L1219.3,814.7L1220.7,813.5L1222.2,814.7L1223.2,813.2L1224.3,814.5L1225.3,813.6L1226.5,814.4L1227.6,813.3L1228.8,814.6L1230.0,813.2L1231.2,814.7L1232.5,813.6L1233.7,814.3L1235.0,813.5L1236.3,814.3L1237.6,813.3L1238.9,814.6L1240.2,813.1L1241.6,814.3L1242.9,813.2L1244.2,814.3L1245.5,813.4L1246.8,814.5L1248.0,813.6L1249.3,814.2L1250.5,813.2L1251.8,814.3L1253.0,813.4L1254.1,814.4L1255.3,813.3L1256.4,814.1L1257.5,813.5L1258.5,814.4L1259.5,813.4L1260.5,814.3L1261.4,813.4L1263.1,814.8L1264.6,813.7L1266.1,814.7L1267.5,814.0L1268.8,814.7L1270.0,813.8L1271.2,814.8L1272.3,813.9L1273.4,815.5L1274.4,814.5L1275.4,815.7L1276.3,814.6L1277.3,815.9L1278.2,814.7L1279.1,815.9L1280.1,815.1L1281.0,816.5L1282.3,815.5L1283.4,816.9L1284.4,816.3L1285.3,818.1L1286.2,817.2L1287.1,818.8L1288.0,818.4L1288.9,819.6L1290.0,819.1L1291.2,820.5L1292.5,819.6L1294.0,821.1L1294.9,820.3L1295.9,821.3L1297.0,820.3L1298.1,821.3L1299.3,820.3L1300.5,821.7L1301.8,820.8L1303.1,822.0L1304.4,820.9L1305.7,821.7L1307.0,820.7L1308.4,822.0L1309.7,820.9L1311.0,822.1L1312.3,821.0L1313.6,821.9L1314.8,821.2L1316.0,821.9L1317.1,821.0L1318.2,822.4L1319.2,821.2L1320.1,822.5L1321.7,821.5L1323.1,822.4L1324.3,821.1L1325.3,823.9L1326.2,821.8L1327.1,823.7L1328.0,821.8L1329.0,824.3L1330.2,821.9L1331.6,823.9L1333.2,822.1L1334.1,824.4L1335.1,821.7L1336.1,823.7L1337.2,822.6L1338.3,823.7L1339.4,823.1L1340.6,823.8L1341.8,823.3L1343.1,824.3L1344.3,823.0L1345.6,824.1L1346.9,823.5L1348.2,824.3L1349.4,823.3L1350.7,824.7L1352.0,823.4L1353.3,824.7L1354.5,823.8L1355.8,824.7L1357.0,823.9L1358.2,824.9L1359.3,823.8L1360.6,824.8L1361.9,824.2L1363.2,826.6L1364.6,823.9L1365.9,826.8L1367.3,822.6L1368.7,827.2L1370.1,823.6L1371.4,826.7L1372.8,823.4L1374.1,827.0L1375.3,822.9L1376.6,827.2L1377.7,824.2L1378.8,827.6L1379.8,824.0L1380.8,827.3L1381.6,823.7L1382.4,826.4L1383.0,825.7" fill="none" stroke="#0000ff" stroke-width="5.6" stroke-linejoin="round" stroke-linecap="butt"/>
<path d="M197.5,936.7L198.2,937.2L199.0,936.5L199.9,937.4L201.0,936.6L202.2,937.4L203.4,936.7L204.7,938.1L206.0,936.6L207.4,938.2L208.8,937.2L210.2,938.3L211.5,937.4L212.8,938.3L213.9,937.6L215.0,938.4L216.1,937.2L217.2,939.0L218.3,937.4L219.5,939.0L220.6,937.9L221.8,938.9L222.9,937.8L224.1,939.3L225.4,937.8L226.6,939.5L227.9,938.5L229.2,939.6L230.6,938.4L231.7,939.8L232.7,939.0L233.8,940.1L235.0,939.3L236.1,940.6L237.3,939.1L238.5,940.7L239.7,939.8L240.9,941.3L242.1,940.0L243.3,941.6L244.5,940.2L245.8,941.8L247.0,940.9L248.2,942.2L249.5,941.2L250.7,942.4L251.9,941.7L253.1,943.2L254.3,942.3L255.4,943.1L256.6,942.3L257.7,943.7L258.8,942.8L260.0,944.2L261.1,943.4L262.2,945.0L263.4,944.0L264.5,945.1L265.6,944.4L266.8,945.8L267.9,944.9L269.0,946.1L270.2,945.1L271.3,946.5L272.4,945.7L273.6,947.4L274.7,946.4L275.8,947.3L277.0,946.8L278.1,948.2L279.2,947.0L280.4,947.8L281.5,948.0L282.7,948.3L283.9,948.5L285.1,948.7L286.2,948.9L287.4,949.1L288.6,949.4L289.7,949.6L290.9,949.8L292.1,950.0L293.2,950.2L294.3,950.4L295.5,950.6L296.6,950.7L297.7,950.9L298.7,951.1L299.8,951.2L300.8,951.4L301.8,951.5L303.1,951.7L304.4,951.8L305.6,951.9L306.8,951.9L307.9,952.0L309.1,952.0L310.1,952.1L311.2,952.1L312.3,952.1L313.4,952.2L314.6,952.2L315.8,952.3L317.0,952.4L318.3,952.5L319.6,952.7L320.6,952.8L321.6,953.0L322.6,953.1L323.7,953.3L324.7,953.5L325.8,953.7L326.9,953.9L328.0,954.1L329.1,954.3L330.2,954.5L331.3,954.8L332.5,955.0L333.6,955.2L334.8,955.4L336.0,955.7L337.2,955.9L338.4,956.1L339.6,956.3L340.9,956.5L342.1,956.7L343.4,956.9L344.5,957.1L345.6,957.2L346.8,957.4L347.9,957.5L349.2,957.7L350.4,957.8L351.6,958.0L352.9,958.1L354.2,958.2L355.4,958.4L356.7,958.5L358.0,958.7L359.3,958.8L360.5,959.0L361.8,959.1L363.0,959.2L364.3,959.4L365.5,959.5L366.6,959.6L367.8,959.8L368.9,959.9L370.0,960.0L371.0,960.1L372.0,960.3L373.0,960.4L374.5,960.6L375.9,960.8L377.2,961.0L378.4,961.1L379.6,961.3L380.7,961.5L381.7,961.6L382.7,961.8L383.7,962.0L384.7,962.1L385.7,962.3L386.8,962.5L387.8,962.7L388.9,962.9L390.0,963.1L391.1,963.3L392.2,963.5L393.3,963.8L394.4,964.0L395.5,964.2L396.6,964.5L397.7,964.7L398.8,965.0L400.0,965.2L401.1,965.5L402.2,965.8L403.3,966.1L404.5,966.3L405.6,966.7L406.7,967.0L407.8,967.3L408.9,967.6L410.0,968.0L411.1,968.3L412.2,968.7L413.4,969.1L414.5,969.5L415.6,969.9L416.7,970.3L417.8,970.7L418.9,971.1L420.0,971.5L421.2,972.0L422.3,972.4L423.4,972.9L424.5,973.3L425.6,973.8L426.7,974.3L427.7,974.7L428.8,975.2L429.8,975.7L430.9,976.2L432.0,976.6L433.0,977.1L434.1,977.7L435.2,978.2L436.2,978.7L437.3,979.2L438.3,979.8L439.4,980.3L440.4,980.9L441.4,981.5L442.4,982.1L443.4,982.7L444.4,983.3L445.3,984.0L446.3,984.6L447.2,985.3L448.1,986.0L449.1,986.7L450.0,987.4L450.9,988.1L451.8,988.8L452.7,989.6L453.5,990.3L454.4,991.0L455.3,991.7L456.2,992.5L457.1,993.2L457.9,993.9L458.8,994.6L459.7,995.4L460.7,996.1L461.7,996.9L462.6,997.7L463.6,998.6L464.6,999.4L465.6,1000.2L466.5,1001.0L467.5,1001.8L468.4,1002.6L469.3,1003.3L470.1,1004.0L471.0,1004.7L471.7,1005.4L472.4,1006.0L473.1,1006.5L474.4,1007.5L475.4,1008.3L476.3,1008.9L477.0,1009.4L477.6,1009.8L478.3,1010.3L479.0,1011.0L479.8,1011.8L480.5,1012.5L481.3,1013.4L482.0,1014.2L482.7,1015.1L483.3,1016.0L484.0,1017.0L484.6,1017.9L485.1,1018.8L485.6,1019.8L486.1,1020.8L486.6,1021.8L487.1,1022.9L487.6,1023.9L488.1,1025.0L488.5,1026.0L489.0,1026.9L489.4,1027.9L489.9,1028.9L490.3,1029.9L490.7,1030.9L491.2,1031.9L491.6,1033.0L492.0,1034.0L492.4,1035.0L492.8,1036.0L493.2,1037.1L493.6,1038.1L493.9,1039.1L494.3,1040.2L494.7,1041.2L495.0,1042.4L495.4,1043.5L495.7,1044.6L496.0,1045.7L496.4,1046.8L496.7,1048.0L497.0,1049.2L497.3,1050.4L497.6,1051.5L497.9,1052.7L498.2,1053.9L498.5,1055.0L498.8,1056.1L499.1,1057.1L499.3,1058.1L499.6,1059.1L499.9,1060.1L500.2,1061.1L500.5,1062.2L500.8,1063.3L501.2,1064.5L501.6,1065.8L501.9,1066.8L502.2,1067.8L502.6,1068.8L503.0,1070.0L503.4,1071.1L503.8,1072.3L504.2,1073.5L504.6,1074.7L505.0,1075.9L505.4,1077.1L505.9,1078.2L506.3,1079.4L506.7,1080.4L507.1,1081.5L507.5,1082.4L508.0,1083.6L508.6,1084.8L509.1,1086.0L509.7,1087.1L510.2,1088.1L510.8,1089.1L511.3,1090.1L511.9,1090.9L512.4,1091.7L512.9,1092.5L513.4,1093.1L514.4,1094.2L515.3,1095.0L516.3,1095.5L517.2,1095.6L518.2,1095.5L519.0,1095.3L519.8,1095.0L520.7,1094.5L521.6,1093.9L522.5,1093.1L523.3,1092.0L524.1,1090.7L524.5,1089.9L524.8,1089.0L525.2,1088.1L525.6,1087.0L525.9,1085.9L526.2,1084.8L526.6,1083.6L526.9,1082.4L527.2,1081.1L527.6,1079.9L527.9,1078.7L528.2,1077.5L528.6,1076.4L528.9,1075.3L529.3,1074.1L529.6,1073.0L530.0,1071.8L530.3,1070.6L530.7,1069.4L531.0,1068.3L531.3,1067.1L531.7,1066.0L532.1,1064.9L532.4,1063.9L532.8,1062.9L533.2,1062.0L533.6,1061.1L534.3,1059.9L534.9,1058.8L535.6,1057.8L536.3,1057.0L537.0,1056.2L537.8,1055.4L538.7,1054.7L539.6,1053.9L540.4,1053.3L541.3,1052.6L542.2,1052.0L543.1,1051.4L544.1,1050.9L545.1,1050.3L546.1,1049.7L547.1,1049.2L548.0,1048.6L549.0,1048.0L550.0,1047.4L550.9,1046.8L551.9,1046.3L552.9,1045.7L553.9,1045.1L554.9,1044.5L555.8,1044.0L556.7,1043.4L557.6,1042.7L558.5,1042.1L559.4,1041.3L560.2,1040.8L560.9,1039.4L561.7,1039.1L562.4,1037.6L563.1,1037.3L563.9,1035.9L564.8,1036.2L565.7,1034.4L566.6,1035.0L567.6,1033.4L568.5,1033.8L569.6,1032.9L570.6,1033.4L571.7,1031.9L572.8,1032.5L574.0,1031.3L575.1,1032.1L576.3,1030.9L577.3,1031.5L578.4,1030.8L579.5,1031.3L580.7,1030.5L581.9,1031.0L583.0,1030.0L584.2,1030.8L585.4,1030.3L586.5,1030.7L587.6,1030.3L588.6,1031.2L589.5,1030.6L590.6,1031.6L591.7,1031.6L592.6,1033.0L593.5,1032.8L594.3,1034.1L595.1,1034.4L596.0,1035.6L596.9,1035.9L597.8,1037.3L598.7,1037.1L599.6,1038.2L600.6,1038.3L601.6,1039.6L602.5,1039.4L603.5,1040.8L604.5,1040.7L605.5,1042.1L606.4,1041.6L607.3,1042.7L608.4,1041.8L609.4,1042.4L610.3,1041.7L611.3,1041.9L612.3,1041.0L613.3,1041.0L614.4,1039.5L615.6,1039.7L616.3,1038.3L617.0,1038.2L617.8,1036.9L618.5,1036.6L619.3,1035.1L620.1,1034.7L620.9,1032.9L621.7,1032.7L622.6,1031.3L623.4,1031.2L624.2,1029.4L625.1,1029.6L625.9,1028.0L626.7,1028.3L627.5,1026.8L628.7,1027.4L629.9,1026.3L631.0,1027.3L632.2,1026.9L633.4,1027.7L634.6,1027.3L635.8,1028.7L636.9,1027.9L638.1,1028.9L639.3,1028.0L640.4,1028.8L641.5,1027.5L642.5,1028.0L643.6,1026.5L644.7,1026.8L645.8,1025.3L646.9,1025.5L648.0,1024.2L649.0,1024.9L650.1,1023.7L651.2,1024.3L652.4,1023.0L653.6,1024.0L654.8,1023.3L656.0,1024.1L657.2,1023.5L658.3,1024.5L659.5,1023.6L660.7,1024.5L661.9,1024.4L663.1,1025.3L664.2,1024.8L665.3,1026.1L666.3,1025.6L667.4,1026.9L668.5,1027.0L669.6,1028.3L670.7,1028.1L671.8,1029.3L672.8,1029.0L673.9,1030.0L675.0,1029.2L676.2,1030.3L677.4,1029.2L678.5,1030.0L679.7,1028.8L680.9,1029.2L682.1,1028.1L683.3,1028.7L684.4,1027.4L685.6,1028.2L686.8,1027.5L687.9,1028.3L689.0,1028.2L690.0,1029.2L691.1,1028.8L692.2,1030.3L693.3,1029.8L694.4,1031.1L695.5,1031.1L696.5,1032.5L697.6,1032.2L698.7,1033.4L699.7,1033.2L700.7,1035.0L701.7,1035.0L702.7,1036.4L703.7,1036.4L704.7,1038.0L705.6,1037.9L706.6,1039.2L707.6,1039.1L708.6,1040.5L709.6,1040.0L710.6,1040.6L711.6,1039.9L712.5,1040.7L713.4,1039.5L714.2,1039.8L715.1,1038.4L716.0,1038.8L716.9,1037.5L717.8,1037.6L718.9,1036.1L719.9,1036.0L721.1,1034.5L722.4,1034.8L723.3,1033.5L724.2,1033.9L725.2,1032.6L726.2,1033.0L727.2,1032.0L728.3,1032.2L729.4,1031.0L730.6,1031.2L731.7,1029.8L732.9,1030.3L734.0,1029.2L735.2,1029.3L736.3,1028.1L737.4,1028.5L738.5,1027.3L739.6,1027.8L740.6,1026.9L741.6,1027.2L742.6,1026.2L744.0,1026.8L745.3,1025.9L746.6,1026.9L747.8,1025.8L749.0,1026.8L750.2,1026.0L751.4,1026.9L752.6,1026.2L753.7,1027.3L754.8,1026.6L755.9,1027.7L756.9,1027.1L758.0,1028.4L759.2,1027.8L760.4,1029.1L761.5,1029.0L762.5,1030.4L763.6,1030.2L764.6,1031.6L765.6,1031.5L766.7,1032.4L767.7,1032.4L768.8,1033.5L769.9,1032.9L771.0,1033.8L772.1,1032.7L773.2,1033.2L774.3,1032.1L775.4,1032.5L776.6,1031.4L777.7,1031.5L778.8,1030.2L780.0,1030.7L781.0,1029.8L782.1,1030.5L783.1,1030.0L784.2,1030.8L785.2,1030.9L786.2,1032.3L787.1,1031.9L788.1,1033.8L789.0,1033.6L789.9,1035.6L790.9,1035.6L791.8,1037.1L792.7,1037.0L793.7,1038.4L794.8,1038.0L795.9,1039.6L797.0,1038.9L798.1,1040.2L799.3,1039.9L800.4,1040.7L801.5,1041.1L802.5,1041.6L803.5,1042.1L804.4,1042.7L805.3,1043.4L806.0,1044.2L806.8,1045.0L807.5,1045.9L808.2,1046.8L808.8,1047.7L809.5,1048.6L810.1,1049.4L810.8,1050.2L811.5,1051.0L812.4,1051.9L813.3,1052.9L814.2,1053.9L815.1,1054.8L816.0,1055.6L816.9,1056.3L817.8,1056.8L818.7,1057.0L819.6,1056.9L820.5,1056.6L821.4,1056.1L822.3,1055.5L823.1,1054.7L824.0,1053.9L824.9,1053.0L825.8,1052.2L826.5,1051.5L827.2,1050.7L827.9,1049.8L828.6,1048.8L829.3,1047.9L830.1,1047.0L830.8,1046.1L831.5,1045.2L832.2,1044.5L832.9,1043.9L833.9,1043.2L834.8,1042.6L835.8,1042.2L836.7,1041.8L837.7,1041.6L838.8,1041.5L840.0,1041.5L840.9,1041.6L841.9,1041.7L842.9,1042.0L844.0,1042.3L845.1,1042.6L846.2,1043.0L847.3,1043.3L848.4,1043.7L849.6,1044.1L850.7,1044.5L851.7,1044.8L852.8,1045.1L853.9,1045.4L854.9,1045.8L856.0,1046.1L857.1,1046.4L858.2,1046.8L859.3,1047.2L860.4,1047.7L861.5,1048.2L862.6,1048.7L863.5,1049.2L864.5,1049.9L865.4,1050.6L866.4,1051.3L867.4,1052.1L868.4,1052.9L869.3,1053.7L870.3,1054.4L871.2,1055.1L872.1,1055.7L872.9,1056.3L873.7,1056.7L874.5,1057.0L875.8,1057.3L876.9,1057.3L877.9,1057.1L878.8,1056.7L879.7,1056.1L880.6,1055.4L881.6,1054.6L882.3,1053.9L883.0,1053.1L883.7,1052.2L884.3,1051.2L885.0,1050.1L885.7,1049.1L886.4,1048.0L887.1,1047.0L887.9,1046.0L888.7,1045.1L889.5,1044.3L890.4,1043.5L891.2,1042.8L892.1,1042.0L893.0,1041.3L893.9,1040.6L894.9,1040.0L896.0,1039.3L897.0,1038.7L898.2,1038.0L899.1,1037.5L900.1,1037.7L901.1,1035.7L902.1,1036.6L903.2,1034.6L904.2,1035.3L905.3,1033.5L906.5,1034.4L907.6,1032.8L908.8,1033.9L910.0,1031.9L911.2,1032.8L912.4,1031.6L913.5,1032.3L914.6,1030.9L915.8,1032.4L917.0,1030.5L918.3,1031.8L919.5,1030.7L920.8,1032.0L922.1,1030.7L923.3,1031.7L924.6,1030.9L925.8,1031.5L927.0,1030.5L928.1,1031.8L929.2,1030.3L930.2,1031.4L931.5,1029.9L932.6,1031.2L933.7,1030.0L934.7,1030.5L935.7,1029.1L936.6,1030.6L937.6,1028.7L938.6,1030.0L939.7,1028.8L940.8,1029.5L942.1,1028.7L943.1,1029.5L944.2,1028.3L945.3,1030.1L946.4,1028.6L947.6,1029.8L948.7,1029.2L950.0,1030.2L951.2,1029.0L952.4,1030.4L953.7,1029.4L954.9,1031.0L956.2,1029.8L957.5,1031.4L958.7,1030.2L960.0,1031.3L961.1,1030.4L962.1,1031.1L963.2,1030.5L964.2,1031.3L965.2,1030.4L966.3,1031.1L967.3,1029.9L968.3,1031.2L969.4,1029.9L970.5,1031.4L971.7,1029.9L972.8,1031.3L974.1,1029.8L975.3,1031.5L976.7,1029.9L978.1,1031.3L979.6,1030.0L980.5,1031.5L981.5,1030.1L982.5,1031.4L983.6,1030.5L984.6,1031.7L985.7,1030.3L986.8,1031.3L988.0,1030.6L989.1,1031.9L990.3,1030.7L991.5,1031.7L992.7,1030.5L993.9,1032.1L995.1,1030.8L996.3,1031.9L997.5,1030.9L998.8,1031.8L1000.0,1030.7L1001.3,1031.9L1002.5,1030.8L1003.7,1032.1L1005.0,1031.4L1006.2,1032.6L1007.4,1031.1L1008.6,1032.3L1009.8,1031.3L1011.0,1032.5L1012.2,1031.3L1013.4,1032.4L1014.5,1031.3L1015.7,1033.0L1016.9,1031.4L1018.1,1033.0L1019.3,1031.3L1020.5,1032.7L1021.7,1031.4L1022.9,1033.0L1024.1,1031.6L1025.3,1032.6L1026.6,1031.6L1027.8,1033.1L1029.0,1031.8L1030.2,1032.9L1031.3,1031.4L1032.5,1032.9L1033.7,1032.0L1034.9,1033.0L1036.0,1031.9L1037.2,1033.2L1038.3,1030.9L1039.5,1033.4L1040.6,1030.6L1041.7,1034.0L1042.8,1031.4L1043.8,1034.3L1044.9,1030.8L1046.2,1034.5L1047.5,1030.9L1048.8,1034.3L1050.1,1031.3L1051.4,1034.4L1052.7,1031.7L1053.9,1035.1L1055.2,1032.8L1056.4,1033.7L1057.6,1032.7L1058.8,1034.1L1059.9,1033.0L1061.1,1034.4L1062.3,1033.4L1063.4,1034.4L1064.5,1033.8L1065.6,1034.9L1066.7,1033.4L1067.8,1035.1L1068.9,1034.1L1070.0,1035.4L1071.0,1033.8L1072.3,1035.3L1073.6,1034.5L1074.8,1035.7L1075.9,1034.3L1077.0,1035.7L1078.1,1034.8L1079.2,1035.9L1080.3,1035.0L1081.3,1035.9L1082.4,1035.0L1083.5,1036.0L1084.6,1034.7L1085.7,1036.4L1086.8,1034.9L1088.0,1036.2L1089.3,1035.3L1090.6,1036.6L1091.7,1035.7L1092.7,1036.5L1093.8,1035.2L1094.9,1036.9L1096.1,1035.4L1097.2,1036.7L1098.4,1035.6L1099.6,1037.1L1100.8,1035.7L1102.0,1037.0L1103.2,1036.1L1104.5,1036.8L1105.7,1035.8L1106.9,1037.5L1108.2,1036.3L1109.4,1037.5L1110.6,1036.3L1111.9,1037.6L1113.1,1036.2L1114.3,1037.5L1115.5,1036.5L1116.7,1037.6L1117.9,1036.7L1119.1,1037.6L1120.3,1037.0L1121.4,1038.0L1122.6,1036.8L1123.8,1038.1L1125.0,1037.1L1126.1,1038.2L1127.3,1037.1L1128.5,1038.5L1129.7,1037.9L1130.9,1038.7L1132.0,1037.5L1133.2,1039.2L1134.4,1037.7L1135.6,1039.2L1136.8,1038.4L1138.0,1039.3L1139.2,1038.4L1140.4,1039.9L1141.6,1038.7L1142.8,1039.6L1144.0,1038.5L1145.1,1039.7L1146.3,1038.6L1147.5,1040.0L1148.7,1039.0L1149.8,1040.4L1151.0,1038.9L1152.2,1040.2L1153.4,1039.1L1154.6,1040.4L1155.8,1039.3L1157.0,1040.4L1158.2,1039.5L1159.4,1040.7L1160.6,1040.0L1161.8,1040.7L1163.0,1040.0L1164.1,1041.0L1165.3,1039.7L1166.5,1041.3L1167.7,1040.2L1168.8,1041.7L1170.0,1040.0L1171.2,1041.7L1172.4,1038.9L1173.7,1042.8L1174.9,1039.3L1176.1,1042.9L1177.4,1040.2L1178.6,1042.8L1179.8,1039.3L1181.1,1041.6L1182.3,1040.1L1183.5,1041.2L1184.7,1040.5L1185.9,1041.2L1187.1,1040.3L1188.3,1041.5L1189.5,1040.3L1190.6,1041.4L1191.8,1040.2L1192.9,1041.8L1194.0,1040.2L1195.0,1041.3L1196.1,1040.7L1197.4,1041.6L1198.7,1040.9L1200.0,1042.0L1201.3,1041.1L1202.5,1042.3L1203.8,1041.3L1205.0,1042.4L1206.1,1041.3L1207.3,1043.1L1208.4,1042.0L1209.5,1043.0L1210.6,1041.8L1211.7,1043.3L1212.7,1042.8L1213.7,1043.7L1214.7,1042.7L1215.7,1044.4L1217.0,1043.2L1218.3,1045.0L1219.5,1044.6L1220.7,1045.8L1221.8,1045.2L1222.9,1046.9L1224.0,1046.5L1225.0,1047.8L1226.0,1047.1L1226.9,1048.5L1227.9,1047.6L1228.8,1048.7L1230.0,1048.0L1231.1,1048.8L1232.1,1047.0L1233.0,1047.8L1234.0,1046.4L1234.9,1046.6L1235.9,1045.1L1236.9,1046.1L1237.9,1044.4L1238.9,1045.7L1239.9,1044.0L1240.8,1044.8L1241.7,1043.6L1242.7,1044.8L1243.8,1043.5L1245.1,1044.9L1246.6,1043.9L1248.3,1044.9L1249.2,1043.7L1250.2,1045.0L1251.2,1044.6L1252.3,1045.5L1253.4,1044.9L1254.6,1046.2L1255.9,1045.5L1257.1,1046.9L1258.4,1046.2L1259.7,1047.4L1261.0,1046.5L1262.3,1048.1L1263.6,1046.9L1264.9,1048.9L1266.2,1047.9L1267.4,1049.0L1268.6,1048.1L1269.7,1049.4L1270.8,1048.4L1271.8,1049.8L1273.2,1048.6L1274.4,1049.5L1275.6,1048.5L1276.7,1049.5L1277.8,1047.8L1278.9,1049.1L1279.9,1047.6L1280.9,1048.4L1281.9,1046.7L1283.0,1047.3L1284.0,1045.9L1285.1,1047.2L1286.3,1045.7L1287.5,1046.6L1288.6,1044.7L1289.6,1045.8L1290.7,1044.3L1291.8,1045.0L1293.0,1044.0L1294.1,1044.5L1295.3,1042.8L1296.5,1043.7L1297.6,1042.4L1298.8,1043.1L1300.0,1041.6L1301.2,1042.9L1302.4,1040.8L1303.6,1041.8L1304.8,1040.5L1305.9,1041.0L1307.1,1039.9L1308.2,1041.0L1309.4,1039.2L1310.5,1040.0L1311.6,1038.9L1312.7,1039.4L1313.8,1038.3L1314.8,1039.4L1315.9,1037.9L1317.0,1038.9L1318.2,1036.9L1319.3,1038.4L1320.5,1037.0L1321.6,1038.0L1322.9,1036.2L1324.1,1037.7L1325.4,1036.4L1326.7,1036.9L1327.7,1036.1L1328.8,1037.1L1329.9,1035.9L1331.0,1036.7L1332.1,1035.7L1333.2,1037.1L1334.4,1035.7L1335.5,1037.0L1336.7,1035.8L1337.9,1037.2L1339.1,1036.2L1340.3,1037.1L1341.5,1036.3L1342.7,1037.0L1344.0,1036.0L1345.2,1037.3L1346.5,1036.4L1347.7,1037.4L1349.0,1036.4L1350.2,1037.4L1351.5,1036.5L1352.8,1037.5L1353.9,1036.4L1355.1,1037.7L1356.3,1036.6L1357.5,1038.1L1358.8,1037.0L1360.1,1038.1L1361.4,1037.2L1362.8,1038.5L1364.1,1037.3L1365.5,1038.6L1366.8,1037.6L1368.2,1038.8L1369.5,1037.9L1370.8,1038.9L1372.1,1036.8L1373.4,1040.0L1374.6,1037.0L1375.8,1040.2L1376.9,1037.8L1378.0,1041.0L1379.0,1037.2L1380.0,1040.8L1380.9,1036.9L1381.7,1040.5L1382.4,1038.0L1383.0,1039.2" fill="none" stroke="#ff00ff" stroke-width="5.6" stroke-linejoin="round" stroke-linecap="butt"/>
<path d="M197.5,1156.0L198.1,1156.5L198.9,1155.4L199.7,1156.6L200.6,1155.3L201.6,1156.6L202.6,1155.4L203.8,1156.2L204.9,1155.6L206.2,1156.7L207.5,1155.5L208.8,1156.7L210.2,1155.8L211.5,1156.6L213.0,1155.8L214.4,1156.7L215.8,1155.7L217.3,1156.5L218.3,1156.0L219.3,1156.7L220.4,1155.8L221.5,1157.1L222.6,1156.3L223.7,1157.3L224.9,1156.4L226.0,1157.3L227.2,1156.6L228.4,1157.2L229.6,1156.4L230.9,1157.4L232.1,1156.9L233.3,1158.0L234.6,1156.8L235.8,1157.8L237.1,1156.9L238.3,1158.1L239.6,1157.2L240.8,1158.1L242.1,1157.2L243.3,1158.5L244.5,1157.4L245.7,1158.8L246.9,1157.8L248.1,1158.7L249.3,1158.0L250.5,1158.7L251.6,1158.2L252.8,1158.8L254.0,1158.0L255.2,1158.8L256.4,1158.1L257.6,1159.1L258.8,1158.4L260.0,1159.4L261.1,1158.4L262.3,1159.2L263.5,1158.5L264.7,1159.5L265.9,1158.8L267.1,1159.8L268.3,1158.9L269.5,1159.8L270.7,1158.6L271.8,1159.6L273.0,1158.8L274.2,1159.9L275.4,1159.1L276.6,1159.9L277.8,1159.6L279.0,1160.2L280.2,1159.4L281.5,1160.6L282.7,1159.9L284.0,1161.3L285.2,1160.1L286.5,1161.4L287.7,1160.8L289.0,1161.9L290.2,1161.0L291.5,1162.1L292.7,1161.4L293.9,1162.8L295.2,1161.8L296.4,1162.8L297.6,1162.1L298.7,1163.2L299.9,1162.7L301.0,1163.7L302.1,1162.6L303.2,1163.7L304.3,1162.7L305.3,1163.9L306.3,1163.0L307.7,1163.7L309.1,1162.9L310.5,1163.2L311.8,1162.4L313.1,1163.0L314.3,1161.4L315.5,1162.0L316.7,1161.1L317.8,1161.7L318.9,1160.1L320.0,1160.6L321.0,1159.5L322.0,1160.1L322.9,1158.7L323.9,1159.5L324.8,1158.5L325.6,1159.1L327.0,1158.3L328.2,1159.5L329.3,1159.3L330.2,1161.0L331.0,1160.7L331.8,1162.2L332.6,1161.4L333.5,1163.0L334.5,1162.0L335.5,1162.8L336.4,1161.8L337.4,1162.2L338.4,1160.8L339.4,1161.2L340.5,1159.9L341.5,1160.6L342.6,1158.8L343.7,1159.8L344.9,1158.5L345.9,1159.3L346.8,1158.3L347.8,1159.4L348.8,1158.7L349.8,1159.6L350.8,1159.1L351.9,1160.0L353.0,1159.1L354.2,1160.6L355.4,1159.6L356.8,1160.7L358.2,1159.3L359.1,1161.2L360.1,1159.5L361.1,1162.3L362.0,1158.8L363.0,1161.8L364.1,1159.0L365.1,1162.4L366.2,1159.2L367.3,1162.3L368.4,1159.2L369.6,1162.0L370.8,1159.3L372.1,1161.9L373.3,1159.7L374.7,1162.7L376.1,1159.5L377.5,1162.1L379.0,1159.2L380.5,1161.7L381.5,1160.7L382.5,1161.5L383.6,1160.8L384.7,1161.7L385.8,1160.9L387.0,1161.9L388.2,1160.9L389.4,1162.1L390.6,1161.0L391.9,1162.0L393.2,1161.2L394.5,1162.3L395.8,1161.2L397.1,1162.3L398.4,1161.3L399.7,1162.6L401.0,1161.5L402.3,1162.8L403.6,1161.5L404.9,1162.7L406.2,1161.8L407.5,1162.6L408.7,1161.7L409.9,1163.0L411.1,1162.0L412.3,1163.0L413.4,1161.9L414.5,1163.1L415.6,1162.3L416.6,1163.2L417.6,1162.1L419.1,1163.2L420.6,1162.2L422.0,1163.2L423.4,1162.1L424.7,1163.2L426.0,1162.1L427.3,1162.8L428.5,1162.3L429.6,1163.0L430.8,1162.0L431.9,1162.8L432.9,1161.9L434.0,1163.0L435.0,1162.2L436.0,1162.9L437.0,1162.1L438.0,1162.7L439.0,1162.2L440.0,1162.9L441.4,1162.3L442.6,1162.9L443.8,1162.5L444.9,1163.3L445.9,1162.5L446.9,1163.6L447.9,1162.7L448.9,1163.6L449.9,1162.8L451.0,1163.8L452.2,1163.4L453.4,1164.3L454.8,1163.7L455.8,1164.5L456.9,1163.7L458.0,1164.9L459.1,1164.4L460.3,1165.2L461.5,1164.6L462.8,1165.5L464.0,1164.7L465.3,1165.8L466.6,1164.7L467.9,1166.2L469.1,1165.3L470.4,1166.5L471.6,1165.5L472.8,1166.6L473.9,1166.2L475.0,1167.2L476.1,1166.4L477.1,1167.8L478.4,1166.7L479.6,1168.3L480.8,1167.7L482.0,1169.1L483.1,1168.6L484.1,1169.5L485.1,1169.1L486.2,1170.5L487.1,1170.2L488.1,1171.4L489.1,1170.7L490.0,1172.3L490.9,1172.0L491.9,1173.3L492.8,1173.3L493.8,1175.0L494.7,1174.6L495.6,1176.4L496.4,1175.8L497.3,1177.8L498.1,1177.7L499.0,1179.6L499.8,1179.2L500.6,1180.9L501.4,1180.9L502.2,1182.7L503.0,1182.3L503.8,1183.8L504.7,1183.7L505.6,1185.2L506.5,1185.2L507.4,1187.0L508.3,1187.0L509.2,1188.6L510.0,1188.2L510.9,1189.7L511.7,1189.6L512.6,1191.0L513.4,1190.5L514.2,1192.2L515.4,1191.8L516.5,1193.0L517.6,1192.7L518.7,1193.9L519.8,1193.0L520.9,1193.9L522.0,1192.9L523.1,1193.6L524.1,1192.3L525.1,1192.9L526.1,1191.5L527.1,1191.7L528.0,1190.0L529.0,1190.1L530.0,1188.4L531.0,1188.3L532.0,1186.6L532.8,1186.8L533.5,1185.2L534.2,1185.4L534.9,1183.4L535.5,1183.3L536.3,1181.8L537.0,1181.7L537.8,1179.8L538.7,1180.3L539.8,1178.4L540.9,1178.4L541.8,1177.2L542.7,1177.8L543.6,1176.5L544.6,1177.2L545.7,1175.7L546.7,1176.4L547.8,1174.9L549.0,1175.7L550.1,1174.6L551.3,1175.3L552.5,1174.1L553.7,1174.5L555.0,1173.2L556.2,1173.8L557.4,1172.7L558.7,1173.6L559.8,1172.3L560.9,1172.9L562.0,1171.7L563.2,1172.7L564.4,1171.5L565.7,1172.0L566.9,1170.9L568.2,1171.6L569.4,1170.5L570.7,1171.0L571.9,1170.0L573.1,1170.9L574.4,1169.8L575.6,1170.2L576.7,1169.1L577.9,1170.2L578.9,1169.0L580.0,1169.6L581.0,1168.7L582.4,1169.9L583.7,1168.4L585.0,1169.7L586.2,1168.9L587.4,1169.7L588.5,1168.8L589.6,1169.8L590.7,1168.6L591.7,1170.0L592.7,1169.3L593.8,1170.1L594.8,1169.2L595.8,1170.4L597.0,1169.9L598.1,1171.2L599.1,1171.0L600.1,1172.3L601.1,1172.1L602.1,1173.2L603.1,1173.0L604.1,1174.1L605.2,1173.9L606.4,1174.9L607.7,1173.9L608.6,1175.1L609.6,1174.1L610.6,1174.6L611.6,1173.6L612.7,1174.2L613.7,1173.0L614.8,1173.8L616.0,1172.4L617.1,1172.6L618.2,1171.5L619.4,1172.0L620.6,1170.8L621.8,1171.4L623.0,1170.0L624.3,1170.8L625.5,1169.6L626.6,1170.2L627.6,1169.2L628.7,1169.8L629.7,1168.7L630.8,1169.5L631.8,1168.6L632.9,1169.0L634.0,1168.1L635.1,1168.9L636.3,1167.8L637.4,1168.5L638.6,1167.3L639.8,1167.9L641.0,1167.0L642.3,1167.6L643.6,1167.0L644.9,1167.7L646.3,1166.8L647.7,1167.7L648.7,1166.6L649.8,1167.5L650.8,1166.5L651.9,1167.3L653.0,1166.6L654.1,1167.4L655.2,1166.9L656.4,1168.0L657.5,1166.8L658.7,1167.7L659.9,1167.2L661.1,1168.3L662.3,1167.1L663.5,1168.4L664.8,1167.6L666.0,1168.5L667.2,1167.7L668.5,1168.5L669.8,1167.9L671.0,1168.9L672.3,1168.1L673.6,1168.9L674.9,1168.4L676.1,1169.4L677.4,1168.3L678.7,1169.5L680.0,1168.6L681.1,1169.7L682.3,1168.7L683.5,1169.7L684.7,1168.8L685.9,1170.0L687.1,1169.1L688.3,1169.9L689.6,1169.5L690.9,1170.1L692.1,1169.7L693.4,1170.7L694.7,1169.7L696.0,1170.8L697.3,1170.1L698.5,1170.9L699.8,1169.9L701.1,1171.2L702.4,1170.3L703.6,1171.3L704.8,1170.7L706.1,1171.3L707.3,1170.8L708.5,1171.6L709.6,1170.8L710.8,1171.9L711.9,1171.1L713.0,1171.7L714.1,1171.1L715.1,1171.8L716.1,1171.1L717.1,1171.8L718.6,1171.1L720.1,1171.7L721.5,1170.8L722.8,1171.8L724.0,1170.7L725.3,1171.8L726.4,1170.6L727.6,1171.5L728.7,1170.3L729.8,1171.1L730.8,1170.1L731.9,1170.9L732.9,1169.8L733.9,1170.8L735.0,1169.8L736.0,1170.2L737.1,1169.5L738.2,1169.8L739.3,1169.1L740.5,1169.5L741.7,1168.1L742.9,1168.9L744.1,1167.9L745.3,1168.3L746.5,1167.2L747.7,1167.8L748.9,1166.3L750.1,1166.8L751.2,1165.8L752.4,1166.3L753.6,1164.8L754.7,1165.7L755.8,1164.4L756.9,1165.3L758.0,1164.2L759.1,1164.5L760.1,1163.5L761.4,1164.4L762.6,1163.7L763.8,1164.4L765.0,1163.2L766.1,1164.4L767.2,1163.6L768.3,1164.4L769.4,1164.0L770.5,1165.1L771.7,1164.1L772.8,1165.5L774.0,1164.8L775.2,1165.6L776.4,1165.4L777.4,1166.3L778.4,1165.9L779.5,1166.8L780.6,1166.4L781.7,1167.5L782.8,1167.3L783.9,1168.2L785.0,1167.7L786.1,1169.1L787.3,1168.8L788.4,1170.1L789.5,1169.6L790.6,1170.8L791.6,1170.5L792.7,1171.6L793.7,1171.2L794.7,1172.7L795.7,1171.8L797.0,1173.3L798.3,1172.7L799.5,1173.6L800.8,1173.2L802.0,1174.4L803.1,1173.7L804.3,1174.8L805.4,1174.1L806.5,1175.5L807.6,1174.5L808.6,1175.8L809.6,1175.3L810.6,1176.6L811.8,1176.1L812.9,1177.3L813.9,1177.2L814.9,1178.4L815.8,1178.2L816.7,1179.9L817.7,1179.4L818.7,1180.4L819.8,1180.1L821.0,1180.7L821.9,1180.1L822.9,1180.6L823.9,1179.4L824.9,1179.8L826.0,1178.9L827.0,1179.2L828.1,1177.9L829.2,1178.0L830.3,1176.8L831.4,1177.1L832.5,1176.0L833.6,1176.3L834.7,1175.2L835.8,1175.9L836.9,1174.6L838.0,1175.6L839.1,1174.3L840.1,1175.4L841.2,1174.3L842.2,1175.2L843.3,1174.1L844.4,1175.2L845.5,1174.0L846.7,1175.3L847.9,1174.1L849.2,1174.9L850.6,1173.9L851.6,1174.8L852.7,1174.1L853.8,1174.5L854.9,1173.9L856.1,1174.4L857.3,1173.5L858.6,1174.3L859.8,1173.6L861.1,1174.3L862.4,1173.1L863.7,1173.7L864.9,1173.2L866.2,1173.5L867.4,1172.7L868.6,1173.6L869.7,1172.2L870.8,1173.2L871.9,1172.2L872.9,1172.7L874.1,1171.6L875.3,1172.0L876.3,1171.0L877.2,1171.3L878.0,1169.8L878.8,1170.5L879.7,1169.2L880.5,1169.5L881.4,1168.3L882.4,1168.7L883.5,1167.4L884.7,1168.2L886.1,1166.7L887.7,1167.4L888.6,1166.7L889.6,1167.7L890.6,1166.6L891.6,1167.5L892.7,1166.6L893.8,1167.7L895.0,1166.5L896.2,1167.7L897.4,1166.7L898.6,1167.9L899.9,1167.3L901.2,1168.3L902.5,1167.4L903.8,1168.1L905.1,1167.3L906.4,1168.4L907.7,1167.8L909.0,1168.8L910.3,1167.9L911.6,1169.0L912.9,1168.4L914.1,1169.1L915.4,1168.5L916.6,1169.4L917.7,1168.6L918.9,1169.6L920.0,1168.7L921.3,1169.4L922.5,1168.6L923.8,1169.6L925.0,1168.2L926.3,1169.4L927.5,1168.1L928.7,1169.0L929.9,1168.1L931.1,1168.9L932.3,1167.7L933.5,1168.3L934.6,1167.6L935.8,1168.0L936.9,1167.1L938.1,1168.2L939.2,1167.1L940.3,1167.9L941.4,1166.9L942.5,1167.7L943.5,1166.5L944.6,1167.6L945.7,1166.5L946.7,1167.5L948.0,1166.9L949.3,1167.7L950.5,1166.8L951.7,1167.7L952.9,1167.1L954.1,1168.1L955.3,1167.6L956.4,1168.4L957.6,1167.8L958.7,1168.8L959.8,1168.1L960.9,1169.2L962.0,1168.3L963.1,1169.9L964.2,1168.8L965.3,1170.2L966.4,1169.4L967.5,1170.6L968.7,1169.7L969.8,1170.9L970.9,1170.3L971.9,1171.6L973.0,1170.8L974.0,1171.9L975.0,1171.5L976.1,1172.3L977.1,1171.9L978.2,1173.1L979.3,1172.2L980.4,1173.7L981.6,1173.0L982.8,1174.3L984.1,1173.6L985.4,1174.8L986.8,1174.3L987.8,1175.3L988.7,1174.3L989.7,1175.7L990.8,1174.6L991.8,1176.0L992.9,1175.0L994.0,1176.4L995.1,1175.6L996.3,1176.6L997.4,1176.0L998.6,1177.3L999.8,1176.6L1000.9,1177.8L1002.1,1176.8L1003.3,1177.9L1004.5,1177.5L1005.7,1178.3L1006.9,1177.8L1008.2,1178.9L1009.4,1177.9L1010.5,1179.4L1011.7,1178.4L1012.9,1179.5L1014.1,1179.1L1015.3,1180.1L1016.4,1179.2L1017.5,1180.4L1018.7,1179.7L1019.8,1180.9L1021.0,1180.1L1022.1,1181.0L1023.2,1180.4L1024.4,1181.5L1025.5,1180.5L1026.7,1181.6L1027.8,1180.9L1029.0,1182.2L1030.1,1181.5L1031.2,1182.2L1032.4,1181.6L1033.5,1182.9L1034.7,1181.8L1035.8,1183.2L1037.0,1182.4L1038.1,1183.4L1039.2,1182.7L1040.4,1184.0L1041.5,1183.1L1042.7,1184.0L1043.8,1183.3L1045.0,1184.7L1046.1,1183.9L1047.2,1184.6L1048.4,1184.3L1049.6,1185.2L1050.7,1184.4L1051.9,1185.4L1053.1,1185.0L1054.3,1186.0L1055.5,1185.2L1056.7,1186.4L1057.9,1185.5L1059.1,1186.5L1060.2,1186.0L1061.4,1187.3L1062.6,1186.2L1063.8,1187.4L1064.9,1186.6L1066.1,1188.0L1067.2,1187.0L1068.3,1188.2L1069.5,1187.5L1070.6,1188.9L1071.6,1188.0L1072.7,1188.9L1073.8,1188.6L1074.8,1189.4L1075.8,1189.0L1077.1,1189.9L1078.3,1189.4L1079.5,1190.4L1080.7,1189.9L1081.9,1191.4L1083.0,1190.5L1084.1,1192.1L1085.2,1191.3L1086.3,1192.8L1087.4,1191.8L1088.4,1193.3L1089.5,1192.4L1090.5,1193.7L1091.6,1193.5L1092.6,1194.3L1093.7,1194.0L1094.7,1195.0L1095.8,1194.4L1096.9,1195.6L1098.0,1194.7L1099.2,1195.8L1100.3,1195.3L1101.5,1196.4L1102.7,1195.7L1103.9,1196.5L1105.0,1195.8L1106.2,1196.9L1107.4,1196.1L1108.6,1197.2L1109.7,1196.1L1110.9,1197.6L1112.1,1196.8L1113.3,1197.7L1114.4,1196.6L1115.6,1197.6L1116.8,1197.0L1118.0,1197.8L1119.1,1197.1L1120.3,1198.1L1121.5,1196.9L1122.7,1198.0L1123.9,1197.3L1125.1,1198.1L1126.3,1197.2L1127.5,1198.3L1128.7,1197.3L1129.9,1198.1L1131.2,1197.4L1132.4,1198.4L1133.6,1197.3L1134.7,1198.0L1135.9,1197.3L1137.1,1198.1L1138.2,1197.2L1139.4,1197.9L1140.5,1197.3L1141.5,1197.8L1142.6,1197.1L1143.9,1198.1L1145.1,1196.8L1146.2,1197.5L1147.3,1196.3L1148.4,1197.0L1149.4,1196.2L1150.5,1196.9L1151.5,1195.9L1152.6,1196.5L1153.6,1195.3L1154.8,1195.7L1156.0,1195.0L1157.2,1195.6L1158.6,1194.7L1160.0,1195.5L1161.0,1194.7L1162.0,1195.3L1163.1,1194.2L1164.2,1195.3L1165.3,1194.5L1166.4,1195.2L1167.6,1194.6L1168.8,1195.6L1170.0,1194.5L1171.2,1195.5L1172.4,1194.8L1173.7,1195.5L1174.9,1194.6L1176.2,1195.6L1177.4,1194.7L1178.7,1195.9L1179.9,1194.8L1181.2,1195.9L1182.4,1195.2L1183.7,1195.7L1184.9,1194.9L1186.1,1195.9L1187.3,1194.9L1188.5,1196.1L1189.7,1194.9L1191.0,1195.9L1192.2,1194.8L1193.5,1196.1L1194.8,1193.7L1196.1,1196.3L1197.3,1193.8L1198.6,1196.7L1199.9,1193.5L1201.2,1197.4L1202.4,1194.5L1203.7,1196.6L1204.9,1194.4L1206.1,1196.7L1207.3,1194.4L1208.5,1196.9L1209.6,1194.6L1210.7,1196.3L1211.7,1194.2L1212.7,1196.2L1213.7,1194.3L1214.6,1197.4L1216.2,1193.7L1217.7,1195.9L1219.0,1195.4L1220.1,1196.3L1221.2,1195.0L1222.2,1196.3L1223.2,1195.6L1224.2,1196.3L1225.1,1195.5L1226.1,1197.0L1227.1,1196.4L1228.2,1197.2L1229.3,1196.8L1230.3,1198.0L1231.4,1197.6L1232.4,1199.1L1233.5,1198.7L1234.5,1200.2L1235.6,1200.1L1236.6,1201.8L1237.7,1201.2L1238.7,1202.5L1239.8,1202.6L1240.8,1203.8L1241.9,1203.3L1243.0,1204.5L1244.2,1204.0L1245.3,1205.2L1246.4,1204.3L1247.6,1205.6L1248.7,1205.0L1249.8,1206.0L1251.0,1205.3L1252.1,1206.6L1253.2,1205.9L1254.4,1206.8L1255.5,1205.9L1256.7,1206.9L1257.8,1206.3L1259.0,1207.5L1260.2,1206.8L1261.4,1207.9L1262.6,1207.0L1263.8,1208.0L1264.9,1207.4L1266.1,1208.1L1267.2,1207.5L1268.2,1208.3L1269.2,1207.6L1270.4,1208.0L1271.6,1206.9L1272.7,1207.6L1273.7,1206.0L1274.7,1206.6L1275.7,1205.2L1276.7,1205.6L1277.7,1203.8L1278.8,1204.4L1279.6,1202.5L1280.4,1202.9L1281.2,1201.7L1282.0,1202.0L1282.8,1200.4L1283.6,1200.3L1284.4,1198.6L1285.3,1198.9L1286.1,1197.2L1287.0,1197.5L1287.9,1195.6L1288.8,1195.6L1289.7,1193.6L1290.4,1193.8L1291.2,1192.4L1291.9,1192.4L1292.7,1190.7L1293.5,1190.7L1294.3,1189.1L1295.1,1188.9L1295.9,1187.5L1296.7,1187.3L1297.6,1185.8L1298.4,1185.9L1299.2,1184.0L1300.0,1183.9L1300.9,1182.1L1301.7,1182.5L1302.5,1180.9L1303.3,1181.1L1304.3,1179.2L1305.2,1179.3L1306.1,1177.6L1307.0,1177.8L1307.9,1176.4L1308.8,1176.7L1309.7,1174.9L1310.6,1175.4L1311.6,1173.8L1312.6,1173.7L1313.6,1172.6L1314.7,1172.8L1315.8,1171.1L1317.0,1171.2L1317.9,1170.3L1318.9,1170.7L1319.9,1169.2L1320.9,1169.9L1321.9,1168.6L1323.0,1168.9L1324.1,1167.7L1325.2,1168.1L1326.3,1166.6L1327.4,1167.2L1328.5,1166.0L1329.7,1166.6L1330.8,1165.3L1331.9,1165.4L1333.1,1164.3L1334.2,1164.7L1335.3,1163.9L1336.4,1164.2L1337.5,1163.0L1338.6,1163.8L1339.8,1162.3L1341.0,1162.9L1342.2,1161.8L1343.4,1162.7L1344.6,1161.6L1345.8,1162.2L1346.9,1161.1L1348.1,1161.6L1349.3,1160.8L1350.5,1161.4L1351.6,1160.1L1352.7,1161.0L1353.8,1159.8L1354.9,1160.3L1355.9,1159.5L1356.9,1159.9L1357.9,1158.7L1359.3,1159.4L1360.6,1158.5L1361.9,1158.7L1363.0,1157.7L1364.2,1158.1L1365.3,1156.8L1366.4,1157.5L1367.5,1156.4L1368.5,1156.7L1369.5,1155.8L1370.6,1156.6L1371.6,1155.6L1372.9,1156.5L1374.2,1155.5L1375.5,1156.7L1376.9,1156.4L1378.2,1157.5L1379.4,1156.9L1380.5,1158.4L1381.5,1157.6L1382.3,1158.9L1383.0,1158.5" fill="none" stroke="#008000" stroke-width="5.4" stroke-linejoin="round" stroke-linecap="butt"/>
<path d="M197.5,31 H1384.5 V1583.5 H197.5 Z" fill="none" stroke="#000" stroke-width="6.5"/>
<line x1="194.5" y1="31" x2="1387.7" y2="31" stroke="#000" stroke-width="7.5"/>
<line x1="197.5" y1="1583" x2="197.5" y2="1614.5" stroke="#000" stroke-width="5.6"/>
<line x1="483.6" y1="1583" x2="483.6" y2="1614.5" stroke="#000" stroke-width="5.6"/>
<line x1="769.7" y1="1583" x2="769.7" y2="1614.5" stroke="#000" stroke-width="5.6"/>
<line x1="1055.8" y1="1583" x2="1055.8" y2="1614.5" stroke="#000" stroke-width="5.6"/>
<line x1="1341.9" y1="1583" x2="1341.9" y2="1614.5" stroke="#000" stroke-width="5.6"/>
<line x1="340.5" y1="1583" x2="340.5" y2="1600" stroke="#000" stroke-width="5.6"/>
<line x1="626.6" y1="1583" x2="626.6" y2="1600" stroke="#000" stroke-width="5.6"/>
<line x1="912.7" y1="1583" x2="912.7" y2="1600" stroke="#000" stroke-width="5.6"/>
<line x1="1198.8" y1="1583" x2="1198.8" y2="1600" stroke="#000" stroke-width="5.6"/>
<line x1="242.8" y1="776" x2="242.8" y2="896" stroke="#000" stroke-width="6.2"/>
<line x1="229" y1="776.3" x2="252.5" y2="776.3" stroke="#000" stroke-width="7" stroke-linecap="round"/>
<line x1="229" y1="896.3" x2="252.5" y2="896.3" stroke="#000" stroke-width="8" stroke-linecap="round"/>
<text id="t1" x="199.9" y="1687.0" font-family="'Liberation Serif', 'Times New Roman', serif" font-size="71" fill="#000" font-weight="normal" text-anchor="middle" textLength="142.50" lengthAdjust="spacingAndGlyphs" >1800</text>
<text id="t2" x="486.4" y="1686.8" font-family="'Liberation Serif', 'Times New Roman', serif" font-size="71" fill="#000" font-weight="normal" text-anchor="middle" textLength="143.83" lengthAdjust="spacingAndGlyphs" >1600</text>
<text id="t3" x="770.6" y="1686.8" font-family="'Liberation Serif', 'Times New Roman', serif" font-size="71" fill="#000" font-weight="normal" text-anchor="middle" textLength="145.24" lengthAdjust="spacingAndGlyphs" >1400</text>
<text id="t4" x="1057.7" y="1686.8" font-family="'Liberation Serif', 'Times New Roman', serif" font-size="71" fill="#000" font-weight="normal" text-anchor="middle" textLength="144.28" lengthAdjust="spacingAndGlyphs" >1200</text>
<text id="t5" x="1342.6" y="1686.8" font-family="'Liberation Serif', 'Times New Roman', serif" font-size="71" fill="#000" font-weight="normal" text-anchor="middle" textLength="144.32" lengthAdjust="spacingAndGlyphs" >1000</text>
<text id="w1" x="393.9" y="1858.5" font-family="'Liberation Serif', 'Times New Roman', serif" font-size="88.5" fill="#000" font-weight="normal" text-anchor="start" textLength="500.65" lengthAdjust="spacingAndGlyphs" >Wavenumber</text>
<text id="w2" x="917.6" y="1860.0" font-family="'Liberation Serif', 'Times New Roman', serif" font-size="87" fill="#000" font-weight="normal" text-anchor="start" textLength="27.11" lengthAdjust="spacingAndGlyphs" >(</text>
<text id="w3" x="943.7" y="1858.9" font-family="'Liberation Serif', 'Times New Roman', serif" font-size="84" fill="#000" font-weight="normal" text-anchor="start" textLength="110.86" lengthAdjust="spacingAndGlyphs" >cm</text>
<text id="w4" x="1050.6" y="1833.8" font-family="'Liberation Serif', 'Times New Roman', serif" font-size="52" fill="#000" font-weight="normal" text-anchor="start" textLength="32.82" lengthAdjust="spacingAndGlyphs" >&#8722;</text>
<text id="w5" x="1081.5" y="1837.8" font-family="'Liberation Serif', 'Times New Roman', serif" font-size="50" fill="#000" font-weight="normal" text-anchor="start" textLength="22.90" lengthAdjust="spacingAndGlyphs" >1</text>
<text id="w6" x="1106.7" y="1860.0" font-family="'Liberation Serif', 'Times New Roman', serif" font-size="87" fill="#000" font-weight="normal" text-anchor="start" textLength="24.13" lengthAdjust="spacingAndGlyphs" >)</text>
<text id="t7" x="-1.0" y="-0.8" font-family="'Liberation Serif', 'Times New Roman', serif" font-size="90" fill="#000" font-weight="normal" text-anchor="start" textLength="669.03" lengthAdjust="spacingAndGlyphs" transform="translate(119,1145) rotate(-90)">Transmittance (%)</text>
<text id="t8" x="254.1" y="849.8" font-family="'Liberation Serif', 'Times New Roman', serif" font-size="50.5" fill="#000" font-weight="bold" text-anchor="start" textLength="89.01" lengthAdjust="spacingAndGlyphs" >0.02</text>
<text id="t9" x="271.5" y="218.5" font-family="'Liberation Serif', 'Times New Roman', serif" font-size="49.5" fill="#0000ff" font-weight="normal" text-anchor="start" textLength="98.90" lengthAdjust="spacingAndGlyphs" stroke="#0000ff" stroke-width="1.9">1710</text>
<text id="t10" x="386.6" y="316.0" font-family="'Liberation Serif', 'Times New Roman', serif" font-size="48" fill="#000000" font-weight="normal" text-anchor="start" textLength="97.75" lengthAdjust="spacingAndGlyphs" stroke="#000000" stroke-width="0.35">1634</text>
<text id="t11" x="685.2" y="372.2" font-family="'Liberation Serif', 'Times New Roman', serif" font-size="48" fill="#000000" font-weight="normal" text-anchor="start" textLength="97.13" lengthAdjust="spacingAndGlyphs" stroke="#000000" stroke-width="0.35">1418</text>
<text id="t12" x="972.7" y="325.1" font-family="'Liberation Serif', 'Times New Roman', serif" font-size="48" fill="#000000" font-weight="normal" text-anchor="start" textLength="97.31" lengthAdjust="spacingAndGlyphs" stroke="#000000" stroke-width="0.35">1225</text>
<text id="t13" x="948.7" y="775.3" font-family="'Liberation Serif', 'Times New Roman', serif" font-size="48" fill="#008000" font-weight="normal" text-anchor="start" textLength="96.15" lengthAdjust="spacingAndGlyphs" stroke="#008000" stroke-width="2.0">1344</text>
<text id="t14" x="384.4" y="872.9" font-family="'Liberation Serif', 'Times New Roman', serif" font-size="48.5" fill="#009933" font-weight="normal" text-anchor="start" textLength="99.29" lengthAdjust="spacingAndGlyphs" stroke="#009933" stroke-width="1.7">1606</text>
<text id="t15" x="612.2" y="1148.8" font-family="'Liberation Serif', 'Times New Roman', serif" font-size="49" fill="#ff00ff" font-weight="normal" text-anchor="start" textLength="97.42" lengthAdjust="spacingAndGlyphs" stroke="#ff00ff" stroke-width="1.1">1516</text>
<text id="t16" x="879.5" y="1143.2" font-family="'Liberation Serif', 'Times New Roman', serif" font-size="49" fill="#ff00ff" font-weight="normal" text-anchor="start" textLength="97.44" lengthAdjust="spacingAndGlyphs" stroke="#ff00ff" stroke-width="1.1">1326</text>
<text id="t17" x="1221.4" y="1143.1" font-family="'Liberation Serif', 'Times New Roman', serif" font-size="46.5" fill="#8800ff" font-weight="normal" text-anchor="start" textLength="97.19" lengthAdjust="spacingAndGlyphs" stroke="#8800ff" stroke-width="0.9">1050</text>
<text id="t18" x="448.3" y="1258.4" font-family="'Liberation Serif', 'Times New Roman', serif" font-size="49" fill="#ff0000" font-weight="normal" text-anchor="start" textLength="98.95" lengthAdjust="spacingAndGlyphs" stroke="#ff0000" stroke-width="1.1">1576</text>
<text id="t19" x="682.3" y="1239.5" font-family="'Liberation Serif', 'Times New Roman', serif" font-size="49" fill="#ff0000" font-weight="normal" text-anchor="start" textLength="100.15" lengthAdjust="spacingAndGlyphs" stroke="#ff0000" stroke-width="1.1">1382</text>
<text id="t20" x="783.2" y="1269.5" font-family="'Liberation Serif', 'Times New Roman', serif" font-size="49" fill="#ff0000" font-weight="normal" text-anchor="start" textLength="95.82" lengthAdjust="spacingAndGlyphs" stroke="#ff0000" stroke-width="1.1">1366</text>
<text id="t21" x="1422.7" y="315.6" font-family="'Liberation Serif', 'Times New Roman', serif" font-size="61" fill="#000" font-weight="normal" text-anchor="start" textLength="147.42" lengthAdjust="spacingAndGlyphs" >323 K</text>
<text id="t22" x="1423.6" y="391.8" font-family="'Liberation Serif', 'Times New Roman', serif" font-size="61" fill="#000" font-weight="normal" text-anchor="start" textLength="226.93" lengthAdjust="spacingAndGlyphs" >CO<tspan font-size="43" dy="22">2</tspan><tspan dy="-22"> + H</tspan><tspan font-size="43" dy="22">2</tspan></text>
<text id="t23" x="1422.3" y="545.4" font-family="'Liberation Serif', 'Times New Roman', serif" font-size="61" fill="#000" font-weight="normal" text-anchor="start" textLength="146.11" lengthAdjust="spacingAndGlyphs" >373 K</text>
<text id="t24" x="1422.9" y="622.5" font-family="'Liberation Serif', 'Times New Roman', serif" font-size="61" fill="#000" font-weight="normal" text-anchor="start" textLength="227.13" lengthAdjust="spacingAndGlyphs" >CO<tspan font-size="43" dy="22">2</tspan><tspan dy="-22"> + H</tspan><tspan font-size="43" dy="22">2</tspan></text>
<text id="t25" x="1422.3" y="785.9" font-family="'Liberation Serif', 'Times New Roman', serif" font-size="61" fill="#000" font-weight="normal" text-anchor="start" textLength="146.11" lengthAdjust="spacingAndGlyphs" >423 K</text>
<text id="t26" x="1422.9" y="860.2" font-family="'Liberation Serif', 'Times New Roman', serif" font-size="61" fill="#000" font-weight="normal" text-anchor="start" textLength="227.13" lengthAdjust="spacingAndGlyphs" >CO<tspan font-size="43" dy="22">2</tspan><tspan dy="-22"> + H</tspan><tspan font-size="43" dy="22">2</tspan></text>
<text id="t27" x="1422.3" y="981.4" font-family="'Liberation Serif', 'Times New Roman', serif" font-size="61" fill="#000" font-weight="normal" text-anchor="start" textLength="146.11" lengthAdjust="spacingAndGlyphs" >473 K</text>
<text id="t28" x="1422.9" y="1055.4" font-family="'Liberation Serif', 'Times New Roman', serif" font-size="61" fill="#000" font-weight="normal" text-anchor="start" textLength="227.13" lengthAdjust="spacingAndGlyphs" >CO<tspan font-size="43" dy="22">2</tspan><tspan dy="-22"> + H</tspan><tspan font-size="43" dy="22">2</tspan></text>
<text id="t29" x="1422.3" y="1162.6" font-family="'Liberation Serif', 'Times New Roman', serif" font-size="61" fill="#000" font-weight="normal" text-anchor="start" textLength="146.11" lengthAdjust="spacingAndGlyphs" >523 K</text>
<text id="t30" x="1422.9" y="1238.8" font-family="'Liberation Serif', 'Times New Roman', serif" font-size="61" fill="#000" font-weight="normal" text-anchor="start" textLength="227.13" lengthAdjust="spacingAndGlyphs" >CO<tspan font-size="43" dy="22">2</tspan><tspan dy="-22"> + H</tspan><tspan font-size="43" dy="22">2</tspan></text>
<line x1="213.5" y1="1304" x2="328.5" y2="1304" stroke="#0000ff" stroke-width="9" stroke-linecap="round"/>
<line x1="214.5" y1="1377.7" x2="325.5" y2="1377.7" stroke="#ff0000" stroke-width="7" stroke-linecap="round"/>
<line x1="214.5" y1="1453" x2="324.5" y2="1453" stroke="#000000" stroke-width="7" stroke-linecap="round"/>
<line x1="214.5" y1="1535.7" x2="325" y2="1535.7" stroke="#008000" stroke-width="7" stroke-linecap="round"/>
<line x1="794.5" y1="1387" x2="903" y2="1387" stroke="#ff00ff" stroke-width="9" stroke-linecap="round"/>
<line x1="798" y1="1536.2" x2="904.5" y2="1536.2" stroke="#8000ff" stroke-width="8" stroke-linecap="round"/>
<text id="t31" x="366.7" y="1326.9" font-family="'Liberation Serif', 'Times New Roman', serif" font-size="52.5" fill="#000" font-weight="normal" text-anchor="start" textLength="116.89" lengthAdjust="spacingAndGlyphs" stroke="#000" stroke-width="0.6">Zn-H</text>
<text id="t32" x="367.2" y="1401.9" font-family="'Liberation Serif', 'Times New Roman', serif" font-size="52.5" fill="#000" font-weight="normal" text-anchor="start" textLength="340.25" lengthAdjust="spacingAndGlyphs" stroke="#000" stroke-width="0.6">formate on ZnO</text>
<text id="t33" x="368.7" y="1475.1" font-family="'Liberation Serif', 'Times New Roman', serif" font-size="52.5" fill="#000" font-weight="normal" text-anchor="start" textLength="422.90" lengthAdjust="spacingAndGlyphs" stroke="#000" stroke-width="0.6">bicarbonate on ZnO</text>
<text id="t34" x="368.5" y="1549.5" font-family="'Liberation Serif', 'Times New Roman', serif" font-size="52.5" fill="#000" font-weight="normal" text-anchor="start" textLength="382.05" lengthAdjust="spacingAndGlyphs" stroke="#000" stroke-width="0.6">carbonate on ZnO</text>
<text id="t35" x="937.3" y="1397.9" font-family="'Liberation Serif', 'Times New Roman', serif" font-size="52.5" fill="#000" font-weight="normal" text-anchor="start" textLength="431.14" lengthAdjust="spacingAndGlyphs" stroke="#000" stroke-width="0.6">polydentate carbonate</text>
<text id="t36" x="937.8" y="1460.5" font-family="'Liberation Serif', 'Times New Roman', serif" font-size="52.5" fill="#000" font-weight="normal" text-anchor="start" textLength="150.05" lengthAdjust="spacingAndGlyphs" stroke="#000" stroke-width="0.6">on ZnO</text>
<text id="t37" x="935.8" y="1550.2" font-family="'Liberation Serif', 'Times New Roman', serif" font-size="52.5" fill="#000" font-weight="normal" text-anchor="start" textLength="332.41" lengthAdjust="spacingAndGlyphs" stroke="#000" stroke-width="0.6">methoxy on ZnO</text>
</svg>
</body></html>
